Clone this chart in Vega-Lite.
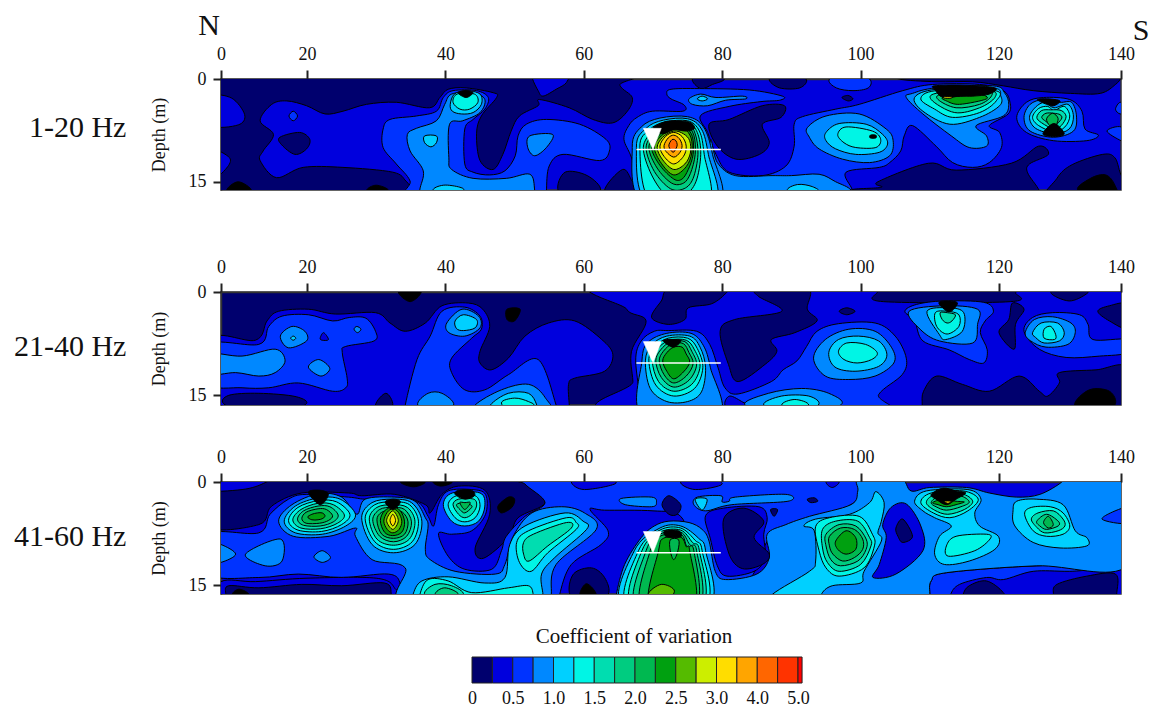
{"$schema":"https://vega.github.io/schema/vega-lite/v6.json","background":"white","padding":{"left":13,"top":10,"right":0,"bottom":0},
"config":{"font":"Liberation Serif","view":{"stroke":"#333","strokeWidth":1.5},"axis":{"grid":false,"labelFont":"Liberation Serif","titleFont":"Liberation Serif","labelFontSize":18,"titleFontSize":18,"labelColor":"#111","titleColor":"#111","titleFontWeight":"normal","domainColor":"#333","tickColor":"#222","tickWidth":2,"domainWidth":1.5}},
"datasets":{
"mark":[{"s":1,"x":68.6,"y":7.2},{"s":1,"x":71.2,"y":7.2},{"s":1,"x":70,"y":10.3}],
"rule":[{"x":67.6,"y":10.3},{"x":79.8,"y":10.3}],
"lg":[{"a":0,"b":1,"v":0},{"a":1,"b":2,"v":1},{"a":2,"b":3,"v":2},{"a":3,"b":4,"v":3},{"a":4,"b":5,"v":4},{"a":5,"b":6,"v":5},{"a":6,"b":7,"v":6},{"a":7,"b":8,"v":7},{"a":8,"b":9,"v":8},{"a":9,"b":10,"v":9},{"a":10,"b":11,"v":10},{"a":11,"b":12,"v":11},{"a":12,"b":13,"v":12},{"a":13,"b":14,"v":13},{"a":14,"b":15,"v":14},{"a":15,"b":16,"v":15},{"a":16,"b":16.2,"v":16}],
"p1":[
{"s":1,"v":0,"x":-5,"y":-3},{"s":1,"v":0,"x":65,"y":-2},{"s":1,"v":0,"x":65.2,"y":0.9},{"s":1,"v":0,"x":67,"y":2.7},{"s":1,"v":0,"x":66.3,"y":4.7},{"s":1,"v":0,"x":64.2,"y":6.4},{"s":1,"v":0,"x":61.3,"y":5.9},{"s":1,"v":0,"x":57.9,"y":4.2},{"s":1,"v":0,"x":53.6,"y":3},{"s":1,"v":0,"x":53.4,"y":3.9},{"s":1,"v":0,"x":50.7,"y":5.4},{"s":1,"v":0,"x":49.5,"y":7.6},{"s":1,"v":0,"x":48.3,"y":11},{"s":1,"v":0,"x":46.9,"y":13.2},{"s":1,"v":0,"x":45,"y":11.9},{"s":1,"v":0,"x":44.5,"y":8},{"s":1,"v":0,"x":45.2,"y":5.4},{"s":1,"v":0,"x":47.4,"y":2.7},{"s":1,"v":0,"x":46.9,"y":2},{"s":1,"v":0,"x":43,"y":1.3},{"s":1,"v":0,"x":40.4,"y":1.5},{"s":1,"v":0,"x":39.2,"y":2.7},{"s":1,"v":0,"x":37.7,"y":4.2},{"s":1,"v":0,"x":32.9,"y":3.4},{"s":1,"v":0,"x":28.6,"y":3.7},{"s":1,"v":0,"x":25.2,"y":4.7},{"s":1,"v":0,"x":22.6,"y":5.1},{"s":1,"v":0,"x":19.9,"y":3.9},{"s":1,"v":0,"x":15.3,"y":3.2},{"s":1,"v":0,"x":11.8,"y":3.7},{"s":1,"v":0,"x":9.1,"y":6.1},{"s":1,"v":0,"x":12.2,"y":8.1},{"s":1,"v":0,"x":9.8,"y":10.5},{"s":1,"v":0,"x":9.1,"y":11.9},{"s":1,"v":0,"x":12.9,"y":14.4},{"s":1,"v":0,"x":19.1,"y":12.9},{"s":1,"v":0,"x":25.2,"y":12.9},{"s":1,"v":0,"x":32.4,"y":13.6},{"s":1,"v":0,"x":34.3,"y":14.9},{"s":1,"v":0,"x":35.3,"y":16.3},{"s":1,"v":0,"x":35.8,"y":17.8},{"s":1,"v":0,"x":-5,"y":18},
{"s":2,"v":1,"x":-2,"y":2.7},{"s":2,"v":1,"x":2.5,"y":2.8},{"s":2,"v":1,"x":5.5,"y":5.2},{"s":2,"v":1,"x":4,"y":6.7},{"s":2,"v":1,"x":-2,"y":6.7},
{"s":3,"v":1,"x":-2,"y":10.5},{"s":3,"v":1,"x":2,"y":11.5},{"s":3,"v":1,"x":1.3,"y":13},{"s":3,"v":1,"x":-2,"y":14.5},
{"s":4,"v":1,"x":52.6,"y":-1},{"s":4,"v":1,"x":52.6,"y":0},{"s":4,"v":1,"x":53.4,"y":1.7},{"s":4,"v":1,"x":54.1,"y":2.5},{"s":4,"v":1,"x":56,"y":1.5},{"s":4,"v":1,"x":57.5,"y":0.5},{"s":4,"v":1,"x":57.5,"y":-1},
{"s":5,"v":0,"x":13.7,"y":8.5},{"s":5,"v":0,"x":18.3,"y":7.8},{"s":5,"v":0,"x":20.4,"y":8.8},{"s":5,"v":0,"x":19.9,"y":10.2},{"s":5,"v":0,"x":17.2,"y":11},{"s":5,"v":0,"x":14.1,"y":9.6},
{"s":6,"v":2,"x":16.8,"y":4.7},{"s":6,"v":2,"x":17.8,"y":5.4},{"s":6,"v":2,"x":16.8,"y":6.1},{"s":6,"v":2,"x":15.8,"y":5.4},
{"s":7,"v":-1,"x":1.3,"y":16.3},{"s":7,"v":-1,"x":4,"y":15},{"s":7,"v":-1,"x":7.1,"y":16.3},{"s":7,"v":-1,"x":4,"y":17.5},
{"s":8,"v":-1,"x":28.6,"y":16.3},{"s":8,"v":-1,"x":30,"y":15.5},{"s":8,"v":-1,"x":31.8,"y":16.3},{"s":8,"v":-1,"x":30,"y":17.5},
{"s":9,"v":2,"x":31,"y":7.3},{"s":9,"v":2,"x":32,"y":5.9},{"s":9,"v":2,"x":35.8,"y":5.4},{"s":9,"v":2,"x":38.7,"y":4.7},{"s":9,"v":2,"x":39.7,"y":2.7},{"s":9,"v":2,"x":41.1,"y":1.7},{"s":9,"v":2,"x":44.5,"y":1.7},{"s":9,"v":2,"x":46.2,"y":2.7},{"s":9,"v":2,"x":45.7,"y":4.4},{"s":9,"v":2,"x":44,"y":5.9},{"s":9,"v":2,"x":42.8,"y":7.3},{"s":9,"v":2,"x":42.8,"y":12.4},{"s":9,"v":2,"x":44,"y":13.6},{"s":9,"v":2,"x":46.4,"y":14},{"s":9,"v":2,"x":48.6,"y":13.4},{"s":9,"v":2,"x":50.1,"y":11.2},{"s":9,"v":2,"x":50.5,"y":8.3},{"s":9,"v":2,"x":51.7,"y":6.6},{"s":9,"v":2,"x":54.6,"y":5.9},{"s":9,"v":2,"x":59.4,"y":6.6},{"s":9,"v":2,"x":63.2,"y":8.8},{"s":9,"v":2,"x":63.7,"y":10.5},{"s":9,"v":2,"x":62.3,"y":11.9},{"s":9,"v":2,"x":57,"y":11},{"s":9,"v":2,"x":55,"y":12.7},{"s":9,"v":2,"x":54.6,"y":16.3},{"s":9,"v":2,"x":54.6,"y":18},{"s":9,"v":2,"x":35.1,"y":18},{"s":9,"v":2,"x":34.9,"y":14.9},{"s":9,"v":2,"x":32.9,"y":12.4},{"s":9,"v":2,"x":31,"y":10},
{"s":10,"v":3,"x":34.5,"y":8.1},{"s":10,"v":3,"x":35.8,"y":7.2},{"s":10,"v":3,"x":38.7,"y":6.1},{"s":10,"v":3,"x":39.9,"y":3.7},{"s":10,"v":3,"x":40.9,"y":2.2},{"s":10,"v":3,"x":44,"y":2},{"s":10,"v":3,"x":45.7,"y":3},{"s":10,"v":3,"x":45,"y":4.9},{"s":10,"v":3,"x":42.5,"y":6.1},{"s":10,"v":3,"x":40.6,"y":6.6},{"s":10,"v":3,"x":40.5,"y":11.5},{"s":10,"v":3,"x":40.9,"y":13.2},{"s":10,"v":3,"x":44,"y":14.5},{"s":10,"v":3,"x":48.8,"y":14.5},{"s":10,"v":3,"x":52.2,"y":13.9},{"s":10,"v":3,"x":52.9,"y":16.2},{"s":10,"v":3,"x":52.9,"y":18},{"s":10,"v":3,"x":36.5,"y":18},{"s":10,"v":3,"x":36.3,"y":16.2},{"s":10,"v":3,"x":36.8,"y":13.4},{"s":10,"v":3,"x":34.9,"y":10.5},
{"s":11,"v":4,"x":40.7,"y":3.7},{"s":11,"v":4,"x":41.3,"y":2.2},{"s":11,"v":4,"x":43,"y":1.7},{"s":11,"v":4,"x":45,"y":2.2},{"s":11,"v":4,"x":45.2,"y":3.7},{"s":11,"v":4,"x":44,"y":4.9},{"s":11,"v":4,"x":42.3,"y":5.1},{"s":11,"v":4,"x":41,"y":4.7},
{"s":12,"v":5,"x":41.1,"y":3.4},{"s":12,"v":5,"x":41.7,"y":2.2},{"s":12,"v":5,"x":44.2,"y":2.2},{"s":12,"v":5,"x":44.7,"y":3.4},{"s":12,"v":5,"x":43.5,"y":4.4},{"s":12,"v":5,"x":42.1,"y":4.4},
{"s":13,"v":-1,"x":41.8,"y":2},{"s":13,"v":-1,"x":43,"y":1.7},{"s":13,"v":-1,"x":44,"y":2},{"s":13,"v":-1,"x":43,"y":2.7},
{"s":14,"v":4,"x":37,"y":8.3},{"s":14,"v":4,"x":38.7,"y":8.3},{"s":14,"v":4,"x":38.7,"y":9.3},{"s":14,"v":4,"x":37.9,"y":9.9},{"s":14,"v":4,"x":37,"y":9.3},
{"s":15,"v":4,"x":38.2,"y":16.3},{"s":15,"v":4,"x":39.7,"y":15.5},{"s":15,"v":4,"x":42.1,"y":15.8},{"s":15,"v":4,"x":42.5,"y":16.4},{"s":15,"v":4,"x":40,"y":18},
{"s":16,"v":3,"x":52.2,"y":8.3},{"s":16,"v":3,"x":55.5,"y":8.1},{"s":16,"v":3,"x":54.6,"y":10},{"s":16,"v":3,"x":52.9,"y":11.2},{"s":16,"v":3,"x":51.9,"y":10},
{"s":17,"v":0,"x":56.3,"y":16.3},{"s":17,"v":0,"x":57.3,"y":13.6},{"s":17,"v":0,"x":60.5,"y":14.1},{"s":17,"v":0,"x":62.4,"y":16.3},{"s":17,"v":0,"x":59,"y":18},
{"s":18,"v":0,"x":63,"y":16.3},{"s":18,"v":0,"x":65.6,"y":13.2},{"s":18,"v":0,"x":67,"y":14.9},{"s":18,"v":0,"x":68,"y":16.3},{"s":18,"v":0,"x":65.5,"y":18},
{"s":19,"v":0,"x":105.6,"y":-1},{"s":19,"v":0,"x":105.6,"y":0},{"s":19,"v":0,"x":110.9,"y":0.4},{"s":19,"v":0,"x":116.2,"y":0.4},{"s":19,"v":0,"x":120.7,"y":1},{"s":19,"v":0,"x":125.6,"y":1.7},{"s":19,"v":0,"x":131.7,"y":2.1},{"s":19,"v":0,"x":136.6,"y":2.1},{"s":19,"v":0,"x":139.1,"y":0.8},{"s":19,"v":0,"x":140,"y":-0.2},{"s":19,"v":0,"x":140,"y":-1},
{"s":20,"v":0,"x":75.7,"y":0},{"s":20,"v":0,"x":76.9,"y":1.4},{"s":20,"v":0,"x":78.6,"y":0.8},{"s":20,"v":0,"x":80.3,"y":0},{"s":20,"v":0,"x":78,"y":-1},
{"s":21,"v":0,"x":86.8,"y":0},{"s":21,"v":0,"x":88.3,"y":1.3},{"s":21,"v":0,"x":91.2,"y":1.3},{"s":21,"v":0,"x":92.1,"y":0},{"s":21,"v":0,"x":89,"y":-1},
{"s":22,"v":2,"x":68.5,"y":18},{"s":22,"v":2,"x":68.2,"y":16},{"s":22,"v":2,"x":66.9,"y":11.5},{"s":22,"v":2,"x":65.8,"y":8.8},{"s":22,"v":2,"x":66.5,"y":6.8},{"s":22,"v":2,"x":67.7,"y":5.6},{"s":22,"v":2,"x":69.9,"y":4.7},{"s":22,"v":2,"x":74.3,"y":4.7},{"s":22,"v":2,"x":74.5,"y":3.8},{"s":22,"v":2,"x":72.6,"y":2.9},{"s":22,"v":2,"x":72,"y":2.2},{"s":22,"v":2,"x":72.6,"y":1.5},{"s":22,"v":2,"x":76.7,"y":1.4},{"s":22,"v":2,"x":83.9,"y":1.6},{"s":22,"v":2,"x":88.7,"y":2.5},{"s":22,"v":2,"x":88.3,"y":3.1},{"s":22,"v":2,"x":85.6,"y":3.3},{"s":22,"v":2,"x":81,"y":4},{"s":22,"v":2,"x":76.9,"y":5.3},{"s":22,"v":2,"x":77.9,"y":7.8},{"s":22,"v":2,"x":79.1,"y":11},{"s":22,"v":2,"x":81,"y":13.6},{"s":22,"v":2,"x":85.8,"y":14.1},{"s":22,"v":2,"x":89.2,"y":12.7},{"s":22,"v":2,"x":90.4,"y":9.8},{"s":22,"v":2,"x":90.4,"y":6.6},{"s":22,"v":2,"x":91.6,"y":5.5},{"s":22,"v":2,"x":96.4,"y":4.4},{"s":22,"v":2,"x":99.8,"y":3.7},{"s":22,"v":2,"x":106.1,"y":1.7},{"s":22,"v":2,"x":110.4,"y":0.8},{"s":22,"v":2,"x":117.2,"y":0.8},{"s":22,"v":2,"x":120.7,"y":1.7},{"s":22,"v":2,"x":121.8,"y":3.4},{"s":22,"v":2,"x":121.5,"y":5.1},{"s":22,"v":2,"x":118.6,"y":6.8},{"s":22,"v":2,"x":120.1,"y":7.8},{"s":22,"v":2,"x":120.4,"y":10},{"s":22,"v":2,"x":118.6,"y":12.2},{"s":22,"v":2,"x":116.2,"y":12.9},{"s":22,"v":2,"x":113.3,"y":12.2},{"s":22,"v":2,"x":110.9,"y":9.8},{"s":22,"v":2,"x":107.5,"y":6.8},{"s":22,"v":2,"x":106.3,"y":8.3},{"s":22,"v":2,"x":105.8,"y":10.5},{"s":22,"v":2,"x":104.2,"y":12.2},{"s":22,"v":2,"x":102.7,"y":12.9},{"s":22,"v":2,"x":97.9,"y":13.6},{"s":22,"v":2,"x":98.8,"y":16.2},{"s":22,"v":2,"x":98.8,"y":18},
{"s":23,"v":2,"x":122.9,"y":5.6},{"s":23,"v":2,"x":124.5,"y":3.4},{"s":23,"v":2,"x":127.3,"y":2.7},{"s":23,"v":2,"x":131.6,"y":3},{"s":23,"v":2,"x":133.6,"y":4.7},{"s":23,"v":2,"x":134.1,"y":7.3},{"s":23,"v":2,"x":136.3,"y":8.2},{"s":23,"v":2,"x":134.4,"y":9},{"s":23,"v":2,"x":128.9,"y":9},{"s":23,"v":2,"x":124.5,"y":7.8},
{"s":24,"v":2,"x":95.5,"y":0},{"s":24,"v":2,"x":96.5,"y":1.3},{"s":24,"v":2,"x":98.9,"y":1.7},{"s":24,"v":2,"x":101.1,"y":1.3},{"s":24,"v":2,"x":101.3,"y":0},{"s":24,"v":2,"x":98.5,"y":-1.5},
{"s":25,"v":2,"x":139.1,"y":4.4},{"s":25,"v":2,"x":139.9,"y":3.4},{"s":25,"v":2,"x":141,"y":4.4},{"s":25,"v":2,"x":139.9,"y":5.1},
{"s":26,"v":2,"x":137.7,"y":7.6},{"s":26,"v":2,"x":140,"y":7},{"s":26,"v":2,"x":141,"y":9},{"s":26,"v":2,"x":140,"y":9},
{"s":27,"v":0,"x":97.3,"y":2.7},{"s":27,"v":0,"x":98.2,"y":2.4},{"s":27,"v":0,"x":98.9,"y":2.9},{"s":27,"v":0,"x":98.2,"y":3.2},
{"s":28,"v":0,"x":78.1,"y":6.6},{"s":28,"v":0,"x":81,"y":5.9},{"s":28,"v":0,"x":85.8,"y":3.9},{"s":28,"v":0,"x":89,"y":3.9},{"s":28,"v":0,"x":88.5,"y":5.6},{"s":28,"v":0,"x":85.8,"y":6.6},{"s":28,"v":0,"x":86.8,"y":9.3},{"s":28,"v":0,"x":85.4,"y":11},{"s":28,"v":0,"x":82,"y":11.7},{"s":28,"v":0,"x":79.3,"y":9.8},
{"s":29,"v":0,"x":108.9,"y":18},{"s":29,"v":0,"x":98.8,"y":16.3},{"s":29,"v":0,"x":103,"y":15.8},{"s":29,"v":0,"x":102.5,"y":15},{"s":29,"v":0,"x":109.8,"y":12.3},{"s":29,"v":0,"x":113.8,"y":13.3},{"s":29,"v":0,"x":122,"y":12.3},{"s":29,"v":0,"x":126.5,"y":9.8},{"s":29,"v":0,"x":128.1,"y":11},{"s":29,"v":0,"x":125,"y":12.4},{"s":29,"v":0,"x":124.7,"y":13.7},{"s":29,"v":0,"x":126.6,"y":16.3},{"s":29,"v":0,"x":126.6,"y":18},
{"s":30,"v":0,"x":128,"y":18},{"s":30,"v":0,"x":129.5,"y":14.5},{"s":30,"v":0,"x":132,"y":12.5},{"s":30,"v":0,"x":137,"y":11},{"s":30,"v":0,"x":139,"y":11.5},{"s":30,"v":0,"x":140,"y":14},{"s":30,"v":0,"x":142,"y":18},
{"s":31,"v":-1,"x":133,"y":16.3},{"s":31,"v":-1,"x":135,"y":14.5},{"s":31,"v":-1,"x":137.5,"y":14},{"s":31,"v":-1,"x":139,"y":15.5},{"s":31,"v":-1,"x":139.2,"y":17.5},
{"s":32,"v":3,"x":78.3,"y":9},{"s":32,"v":3,"x":79.3,"y":12.2},{"s":32,"v":3,"x":81.9,"y":14.1},{"s":32,"v":3,"x":87.2,"y":14.1},{"s":32,"v":3,"x":90,"y":14.1},{"s":32,"v":3,"x":94,"y":13.9},{"s":32,"v":3,"x":96.4,"y":15},{"s":32,"v":3,"x":98.6,"y":16.2},{"s":32,"v":3,"x":98.6,"y":18},{"s":32,"v":3,"x":78.3,"y":18},
{"s":33,"v":4,"x":89.4,"y":16.3},{"s":33,"v":4,"x":90.9,"y":15.4},{"s":33,"v":4,"x":93,"y":15.7},{"s":33,"v":4,"x":94,"y":16.6},{"s":33,"v":4,"x":91.5,"y":18},
{"s":34,"v":3,"x":75.2,"y":2.9},{"s":34,"v":3,"x":76.9,"y":2.2},{"s":34,"v":3,"x":79.1,"y":2.7},{"s":34,"v":3,"x":82.9,"y":2.5},{"s":34,"v":3,"x":83.4,"y":2.9},{"s":34,"v":3,"x":80.5,"y":3.1},{"s":34,"v":3,"x":77.9,"y":3.9},{"s":34,"v":3,"x":75.7,"y":3.7},
{"s":35,"v":4,"x":76.4,"y":2.9},{"s":35,"v":4,"x":77.1,"y":2.5},{"s":35,"v":4,"x":77.9,"y":2.9},{"s":35,"v":4,"x":77.1,"y":3.2},
{"s":36,"v":3,"x":92.3,"y":7.1},{"s":36,"v":3,"x":95,"y":5.4},{"s":36,"v":3,"x":99.8,"y":5.1},{"s":36,"v":3,"x":103.7,"y":7.3},{"s":36,"v":3,"x":104.7,"y":9},{"s":36,"v":3,"x":104.2,"y":11.2},{"s":36,"v":3,"x":101.3,"y":12.2},{"s":36,"v":3,"x":97.4,"y":11.7},{"s":36,"v":3,"x":94,"y":10.2},{"s":36,"v":3,"x":92.6,"y":8.5},
{"s":37,"v":4,"x":95,"y":7.8},{"s":37,"v":4,"x":96.9,"y":6.5},{"s":37,"v":4,"x":100.8,"y":6.6},{"s":37,"v":4,"x":103.2,"y":8.1},{"s":37,"v":4,"x":103.9,"y":9.5},{"s":37,"v":4,"x":102.7,"y":10.7},{"s":37,"v":4,"x":99.3,"y":11},{"s":37,"v":4,"x":96.4,"y":10.2},{"s":37,"v":4,"x":95,"y":9},
{"s":38,"v":5,"x":96.7,"y":8.1},{"s":38,"v":5,"x":97.9,"y":7},{"s":38,"v":5,"x":101.7,"y":7.6},{"s":38,"v":5,"x":102.9,"y":8.8},{"s":38,"v":5,"x":102.2,"y":10},{"s":38,"v":5,"x":99.3,"y":10},{"s":38,"v":5,"x":97.6,"y":9.3},
{"s":39,"v":-1,"x":101.4,"y":8.2},{"s":39,"v":-1,"x":102.2,"y":8.2},{"s":39,"v":-1,"x":102.2,"y":8.6},{"s":39,"v":-1,"x":101.4,"y":8.6},
{"s":40,"v":3,"x":106.6,"y":2.7},{"s":40,"v":3,"x":107.5,"y":2.1},{"s":40,"v":3,"x":110.9,"y":1.3},{"s":40,"v":3,"x":119.1,"y":1},{"s":40,"v":3,"x":120.9,"y":2},{"s":40,"v":3,"x":121.6,"y":3.7},{"s":40,"v":3,"x":120.7,"y":5.4},{"s":40,"v":3,"x":116.7,"y":6.8},{"s":40,"v":3,"x":118.2,"y":8.3},{"s":40,"v":3,"x":118.2,"y":9.8},{"s":40,"v":3,"x":115.7,"y":10},{"s":40,"v":3,"x":113.1,"y":8.3},{"s":40,"v":3,"x":109,"y":5.1},
{"s":41,"v":4,"x":107.8,"y":2.7},{"s":41,"v":4,"x":109,"y":4.7},{"s":41,"v":4,"x":112.9,"y":6.6},{"s":41,"v":4,"x":117.2,"y":5.6},{"s":41,"v":4,"x":120.1,"y":3.9},{"s":41,"v":4,"x":120.3,"y":2.5},{"s":41,"v":4,"x":119.1,"y":1.3},{"s":41,"v":4,"x":110.9,"y":1.5},
{"s":42,"v":5,"x":108.7,"y":2.9},{"s":42,"v":5,"x":110.7,"y":4.4},{"s":42,"v":5,"x":113.3,"y":5.6},{"s":42,"v":5,"x":117.2,"y":4.9},{"s":42,"v":5,"x":119.6,"y":3.2},{"s":42,"v":5,"x":119.4,"y":1.7},{"s":42,"v":5,"x":110.9,"y":1.7},
{"s":43,"v":6,"x":110.2,"y":3},{"s":43,"v":6,"x":113.6,"y":4.9},{"s":43,"v":6,"x":117.2,"y":4.2},{"s":43,"v":6,"x":119.4,"y":2.7},{"s":43,"v":6,"x":118.6,"y":1.7},{"s":43,"v":6,"x":111.4,"y":2},
{"s":44,"v":7,"x":111.2,"y":3},{"s":44,"v":7,"x":113.8,"y":4.2},{"s":44,"v":7,"x":117.2,"y":3.7},{"s":44,"v":7,"x":118.9,"y":2.5},{"s":44,"v":7,"x":118.2,"y":1.7},{"s":44,"v":7,"x":111.9,"y":2.2},
{"s":45,"v":9,"x":112.4,"y":3.2},{"s":45,"v":9,"x":114.3,"y":3.7},{"s":45,"v":9,"x":118.2,"y":2.9},{"s":45,"v":9,"x":117.2,"y":2.2},{"s":45,"v":9,"x":114.8,"y":2.5},{"s":45,"v":9,"x":111.9,"y":2.7},
{"s":46,"v":-1,"x":110.7,"y":1.5},{"s":46,"v":-1,"x":111.9,"y":2.7},{"s":46,"v":-1,"x":114.3,"y":2.5},{"s":46,"v":-1,"x":116.2,"y":2.5},{"s":46,"v":-1,"x":118.6,"y":2.2},{"s":46,"v":-1,"x":119.4,"y":1.3},{"s":46,"v":-1,"x":114.8,"y":0.9},{"s":46,"v":-1,"x":110.7,"y":1},
{"s":47,"v":12,"x":112.1,"y":2.6},{"s":47,"v":12,"x":113.1,"y":2.6},{"s":47,"v":12,"x":113.1,"y":2.8},{"s":47,"v":12,"x":112.1,"y":2.8},
{"s":48,"v":3,"x":124.1,"y":5.6},{"s":48,"v":3,"x":125.1,"y":3.7},{"s":48,"v":3,"x":127.3,"y":3},{"s":48,"v":3,"x":130,"y":3.4},{"s":48,"v":3,"x":131.9,"y":3.4},{"s":48,"v":3,"x":132.7,"y":5.4},{"s":48,"v":3,"x":132.2,"y":7.6},{"s":48,"v":3,"x":128.9,"y":8.5},{"s":48,"v":3,"x":125.1,"y":7.6},
{"s":49,"v":4,"x":125,"y":5.6},{"s":49,"v":4,"x":126,"y":4.1},{"s":49,"v":4,"x":127.5,"y":3.4},{"s":49,"v":4,"x":129,"y":4.2},{"s":49,"v":4,"x":131.3,"y":3.7},{"s":49,"v":4,"x":132.2,"y":5.4},{"s":49,"v":4,"x":131.5,"y":7.3},{"s":49,"v":4,"x":129,"y":8},{"s":49,"v":4,"x":126,"y":7.2},
{"s":50,"v":5,"x":125.5,"y":5.6},{"s":50,"v":5,"x":126.5,"y":4.3},{"s":50,"v":5,"x":128,"y":4},{"s":50,"v":5,"x":129,"y":4.6},{"s":50,"v":5,"x":130.7,"y":4},{"s":50,"v":5,"x":131.6,"y":5.4},{"s":50,"v":5,"x":130.8,"y":7},{"s":50,"v":5,"x":129,"y":7.7},{"s":50,"v":5,"x":126.5,"y":6.8},
{"s":51,"v":6,"x":126.2,"y":5.6},{"s":51,"v":6,"x":127,"y":4.6},{"s":51,"v":6,"x":128.5,"y":4.5},{"s":51,"v":6,"x":130.2,"y":4.6},{"s":51,"v":6,"x":131,"y":5.5},{"s":51,"v":6,"x":130.2,"y":6.8},{"s":51,"v":6,"x":129,"y":7.3},{"s":51,"v":6,"x":127,"y":6.4},
{"s":52,"v":7,"x":127,"y":5.6},{"s":52,"v":7,"x":127.7,"y":5},{"s":52,"v":7,"x":129,"y":5},{"s":52,"v":7,"x":130,"y":5.2},{"s":52,"v":7,"x":130.3,"y":5.7},{"s":52,"v":7,"x":129.6,"y":6.5},{"s":52,"v":7,"x":129,"y":7},{"s":52,"v":7,"x":127.7,"y":6.2},
{"s":53,"v":8,"x":127.8,"y":5.8},{"s":53,"v":8,"x":128.8,"y":5},{"s":53,"v":8,"x":129.7,"y":5.8},{"s":53,"v":8,"x":129.1,"y":7},{"s":53,"v":8,"x":128.3,"y":6.8},
{"s":54,"v":-1,"x":126.3,"y":3},{"s":54,"v":-1,"x":128,"y":2.9},{"s":54,"v":-1,"x":130,"y":3.2},{"s":54,"v":-1,"x":129,"y":3.9},{"s":54,"v":-1,"x":127.8,"y":3.7},
{"s":55,"v":-1,"x":127.2,"y":8},{"s":55,"v":-1,"x":129,"y":6.5},{"s":55,"v":-1,"x":130.7,"y":8},{"s":55,"v":-1,"x":129,"y":8.4},
{"s":60,"v":3,"x":68.5,"y":18},{"s":60,"v":3,"x":67,"y":10},{"s":60,"v":3,"x":68.3,"y":7},{"s":60,"v":3,"x":71,"y":5.7},{"s":60,"v":3,"x":75,"y":5.5},{"s":60,"v":3,"x":77.3,"y":7},{"s":60,"v":3,"x":78.6,"y":11},{"s":60,"v":3,"x":79.5,"y":18},
{"s":61,"v":4,"x":69.2,"y":18},{"s":61,"v":4,"x":67.6,"y":10},{"s":61,"v":4,"x":69,"y":7.2},{"s":61,"v":4,"x":71.5,"y":6},{"s":61,"v":4,"x":75,"y":5.8},{"s":61,"v":4,"x":77,"y":7.3},{"s":61,"v":4,"x":78,"y":11},{"s":61,"v":4,"x":78.9,"y":18},
{"s":62,"v":5,"x":69.8,"y":18},{"s":62,"v":5,"x":68.1,"y":10},{"s":62,"v":5,"x":69.5,"y":7.4},{"s":62,"v":5,"x":71.7,"y":6.3},{"s":62,"v":5,"x":75,"y":6.1},{"s":62,"v":5,"x":76.7,"y":7.6},{"s":62,"v":5,"x":77.4,"y":11},{"s":62,"v":5,"x":78,"y":18},
{"s":63,"v":6,"x":72,"y":17},{"s":63,"v":6,"x":69.8,"y":14},{"s":63,"v":6,"x":68.6,"y":10},{"s":63,"v":6,"x":70,"y":7.6},{"s":63,"v":6,"x":72,"y":6.6},{"s":63,"v":6,"x":75,"y":6.4},{"s":63,"v":6,"x":76.4,"y":7.8},{"s":63,"v":6,"x":76.9,"y":11},{"s":63,"v":6,"x":76.2,"y":15},{"s":63,"v":6,"x":74.5,"y":17},
{"s":64,"v":7,"x":72.5,"y":16},{"s":64,"v":7,"x":70.2,"y":13.5},{"s":64,"v":7,"x":69,"y":10},{"s":64,"v":7,"x":70.3,"y":7.8},{"s":64,"v":7,"x":72.3,"y":6.8},{"s":64,"v":7,"x":75,"y":6.6},{"s":64,"v":7,"x":76.1,"y":8},{"s":64,"v":7,"x":76.5,"y":11},{"s":64,"v":7,"x":75.8,"y":14.5},{"s":64,"v":7,"x":74.5,"y":16},
{"s":65,"v":8,"x":72.7,"y":15.2},{"s":65,"v":8,"x":70.6,"y":13},{"s":65,"v":8,"x":69.4,"y":10},{"s":65,"v":8,"x":70.6,"y":8},{"s":65,"v":8,"x":72.5,"y":7},{"s":65,"v":8,"x":74.8,"y":6.9},{"s":65,"v":8,"x":75.9,"y":8.2},{"s":65,"v":8,"x":76.1,"y":11},{"s":65,"v":8,"x":75.4,"y":13.8},{"s":65,"v":8,"x":74.4,"y":15.2},
{"s":66,"v":9,"x":73,"y":14.6},{"s":66,"v":9,"x":71,"y":12.6},{"s":66,"v":9,"x":69.8,"y":10},{"s":66,"v":9,"x":71,"y":8.1},{"s":66,"v":9,"x":72.6,"y":7.2},{"s":66,"v":9,"x":74.6,"y":7.1},{"s":66,"v":9,"x":75.7,"y":8.4},{"s":66,"v":9,"x":75.8,"y":11},{"s":66,"v":9,"x":75.1,"y":13.2},{"s":66,"v":9,"x":74.2,"y":14.6},
{"s":67,"v":10,"x":73,"y":14},{"s":67,"v":10,"x":71.2,"y":12.3},{"s":67,"v":10,"x":70.2,"y":10},{"s":67,"v":10,"x":71.2,"y":8.3},{"s":67,"v":10,"x":72.8,"y":7.4},{"s":67,"v":10,"x":74.5,"y":7.3},{"s":67,"v":10,"x":75.5,"y":8.6},{"s":67,"v":10,"x":75.6,"y":10.8},{"s":67,"v":10,"x":74.8,"y":12.8},
{"s":68,"v":11,"x":73,"y":13.2},{"s":68,"v":11,"x":71.4,"y":11.8},{"s":68,"v":11,"x":70.6,"y":10},{"s":68,"v":11,"x":71.4,"y":8.5},{"s":68,"v":11,"x":73,"y":7.6},{"s":68,"v":11,"x":74.4,"y":8},{"s":68,"v":11,"x":75.3,"y":9},{"s":68,"v":11,"x":75.4,"y":10.8},{"s":68,"v":11,"x":74.6,"y":12.4},
{"s":69,"v":-1,"x":70,"y":7.2},{"s":69,"v":-1,"x":71.5,"y":6.3},{"s":69,"v":-1,"x":73,"y":6.1},{"s":69,"v":-1,"x":75.3,"y":6.3},{"s":69,"v":-1,"x":76,"y":7.2},{"s":69,"v":-1,"x":74.8,"y":7.6},{"s":69,"v":-1,"x":73,"y":7.4},{"s":69,"v":-1,"x":71.4,"y":8},
{"s":70,"v":12,"x":73,"y":12.4},{"s":70,"v":12,"x":71.6,"y":11.3},{"s":70,"v":12,"x":71,"y":9.8},{"s":70,"v":12,"x":71.8,"y":8.4},{"s":70,"v":12,"x":73,"y":7.8},{"s":70,"v":12,"x":74.2,"y":8.4},{"s":70,"v":12,"x":74.8,"y":9.8},{"s":70,"v":12,"x":74.4,"y":11.3},
{"s":71,"v":13,"x":73,"y":11.4},{"s":71,"v":13,"x":71.9,"y":10.6},{"s":71,"v":13,"x":71.6,"y":9.7},{"s":71,"v":13,"x":72.2,"y":8.6},{"s":71,"v":13,"x":73,"y":8.2},{"s":71,"v":13,"x":73.8,"y":8.7},{"s":71,"v":13,"x":74.2,"y":9.7},{"s":71,"v":13,"x":73.9,"y":10.7},
{"s":72,"v":14,"x":72.9,"y":10.7},{"s":72,"v":14,"x":72.4,"y":10.1},{"s":72,"v":14,"x":72.3,"y":9.6},{"s":72,"v":14,"x":72.6,"y":9},{"s":72,"v":14,"x":72.9,"y":8.8},{"s":72,"v":14,"x":73.3,"y":9},{"s":72,"v":14,"x":73.5,"y":9.6},{"s":72,"v":14,"x":73.3,"y":10.2}
],
"p2":[
{"s":1,"v":1,"x":-3,"y":7},{"s":1,"v":1,"x":8,"y":7},{"s":1,"v":1,"x":10.7,"y":4.2},{"s":1,"v":1,"x":13.4,"y":2.8},{"s":1,"v":1,"x":20.2,"y":2.5},{"s":1,"v":1,"x":24.1,"y":3.2},{"s":1,"v":1,"x":29.9,"y":3},{"s":1,"v":1,"x":32,"y":4.5},{"s":1,"v":1,"x":34.2,"y":5.7},{"s":1,"v":1,"x":37.1,"y":4.5},{"s":1,"v":1,"x":39.5,"y":2},{"s":1,"v":1,"x":43.3,"y":1.6},{"s":1,"v":1,"x":45.4,"y":2.5},{"s":1,"v":1,"x":46.4,"y":5},{"s":1,"v":1,"x":45,"y":8.6},{"s":1,"v":1,"x":45,"y":10.3},{"s":1,"v":1,"x":46.6,"y":11.3},{"s":1,"v":1,"x":49.1,"y":9.6},{"s":1,"v":1,"x":51.5,"y":6.4},{"s":1,"v":1,"x":54.9,"y":4.5},{"s":1,"v":1,"x":58.7,"y":4.2},{"s":1,"v":1,"x":62.6,"y":6.9},{"s":1,"v":1,"x":64.2,"y":9.1},{"s":1,"v":1,"x":63,"y":11.5},{"s":1,"v":1,"x":58.7,"y":12.5},{"s":1,"v":1,"x":57.8,"y":13.4},{"s":1,"v":1,"x":57.9,"y":16.4},{"s":1,"v":1,"x":58,"y":18},{"s":1,"v":1,"x":-3,"y":18},
{"s":2,"v":1,"x":66.2,"y":-2},{"s":2,"v":1,"x":66.2,"y":2.5},{"s":2,"v":1,"x":69,"y":4.2},{"s":2,"v":1,"x":66.9,"y":8.6},{"s":2,"v":1,"x":67.1,"y":13},{"s":2,"v":1,"x":67.4,"y":18},{"s":2,"v":1,"x":147,"y":20},{"s":2,"v":1,"x":147,"y":-3},
{"s":3,"v":0,"x":69.8,"y":3.7},{"s":3,"v":0,"x":71.2,"y":1.3},{"s":3,"v":0,"x":72.7,"y":-0.6},{"s":3,"v":0,"x":80.6,"y":-0.6},{"s":3,"v":0,"x":80.6,"y":0.1},{"s":3,"v":0,"x":78.5,"y":1.7},{"s":3,"v":0,"x":75.1,"y":2.3},{"s":3,"v":0,"x":74.6,"y":4},{"s":3,"v":0,"x":72.2,"y":4.7},
{"s":4,"v":0,"x":85,"y":-0.6},{"s":4,"v":0,"x":92.3,"y":-0.6},{"s":4,"v":0,"x":92.3,"y":2.5},{"s":4,"v":0,"x":93.7,"y":4.2},{"s":4,"v":0,"x":90.5,"y":5.9},{"s":4,"v":0,"x":87.1,"y":6.9},{"s":4,"v":0,"x":87.9,"y":8.6},{"s":4,"v":0,"x":86.2,"y":10.5},{"s":4,"v":0,"x":82.3,"y":13},{"s":4,"v":0,"x":80.9,"y":10.5},{"s":4,"v":0,"x":79.7,"y":5.7},{"s":4,"v":0,"x":81.8,"y":4},{"s":4,"v":0,"x":88.6,"y":2.8},{"s":4,"v":0,"x":85.2,"y":0.6},
{"s":5,"v":0,"x":102.4,"y":-0.9},{"s":5,"v":0,"x":102.4,"y":0},{"s":5,"v":0,"x":103.3,"y":1.4},{"s":5,"v":0,"x":121.9,"y":1.4},{"s":5,"v":0,"x":122.7,"y":0.1},{"s":5,"v":0,"x":122.7,"y":-0.9},
{"s":6,"v":0,"x":122.2,"y":1.6},{"s":6,"v":0,"x":124.1,"y":2.5},{"s":6,"v":0,"x":122.7,"y":4.7},{"s":6,"v":0,"x":122.5,"y":8.3},{"s":6,"v":0,"x":120,"y":5.9},{"s":6,"v":0,"x":121.6,"y":4},
{"s":7,"v":0,"x":128.5,"y":0.1},{"s":7,"v":0,"x":131.5,"y":1.3},{"s":7,"v":0,"x":134.3,"y":0.3},{"s":7,"v":0,"x":134.4,"y":-0.5},{"s":7,"v":0,"x":131,"y":-1},
{"s":8,"v":0,"x":136.2,"y":2.8},{"s":8,"v":0,"x":138.1,"y":2},{"s":8,"v":0,"x":141,"y":1.8},{"s":8,"v":0,"x":141,"y":5.2},{"s":8,"v":0,"x":138.1,"y":4.2},
{"s":9,"v":0,"x":108.9,"y":18},{"s":9,"v":0,"x":108.9,"y":16.4},{"s":9,"v":0,"x":109.1,"y":14.4},{"s":9,"v":0,"x":111,"y":12.2},{"s":9,"v":0,"x":114.7,"y":13.4},{"s":9,"v":0,"x":118.6,"y":14.4},{"s":9,"v":0,"x":123.3,"y":12.2},{"s":9,"v":0,"x":126.6,"y":14.4},{"s":9,"v":0,"x":128,"y":15.1},{"s":9,"v":0,"x":129.9,"y":13.2},{"s":9,"v":0,"x":129.9,"y":11.7},{"s":9,"v":0,"x":135.9,"y":11.3},{"s":9,"v":0,"x":141,"y":11},{"s":9,"v":0,"x":141,"y":18},
{"s":10,"v":-1,"x":132.4,"y":16.4},{"s":10,"v":-1,"x":134.8,"y":14.2},{"s":10,"v":-1,"x":138.1,"y":14.4},{"s":10,"v":-1,"x":139,"y":16.4},{"s":10,"v":-1,"x":135.5,"y":18},
{"s":11,"v":-1,"x":33.2,"y":0},{"s":11,"v":-1,"x":34.9,"y":1.4},{"s":11,"v":-1,"x":36.5,"y":0},{"s":11,"v":-1,"x":35,"y":-1},
{"s":12,"v":-1,"x":48.9,"y":2.5},{"s":12,"v":-1,"x":50.8,"y":2.5},{"s":12,"v":-1,"x":50,"y":4.2},{"s":12,"v":-1,"x":48.9,"y":4},
{"s":13,"v":0,"x":96.9,"y":2.8},{"s":13,"v":0,"x":98,"y":2.3},{"s":13,"v":0,"x":99.2,"y":2.8},{"s":13,"v":0,"x":98,"y":3.3},
{"s":14,"v":2,"x":-3,"y":7.6},{"s":14,"v":2,"x":8.8,"y":7.6},{"s":14,"v":2,"x":11.1,"y":5},{"s":14,"v":2,"x":14.2,"y":3.5},{"s":14,"v":2,"x":20.2,"y":3.3},{"s":14,"v":2,"x":23.7,"y":4.2},{"s":14,"v":2,"x":26.1,"y":3.7},{"s":14,"v":2,"x":28.5,"y":3.8},{"s":14,"v":2,"x":29.9,"y":5.7},{"s":14,"v":2,"x":29.7,"y":7.1},{"s":14,"v":2,"x":25.6,"y":7.9},{"s":14,"v":2,"x":25.1,"y":8.8},{"s":14,"v":2,"x":25.8,"y":12.5},{"s":14,"v":2,"x":25.6,"y":13.9},{"s":14,"v":2,"x":23.7,"y":14.4},{"s":14,"v":2,"x":18,"y":13.2},{"s":14,"v":2,"x":11.1,"y":13.9},{"s":14,"v":2,"x":4.9,"y":13.9},{"s":14,"v":2,"x":-3,"y":13.3},
{"s":15,"v":0,"x":1,"y":16.4},{"s":15,"v":0,"x":1.8,"y":15},{"s":15,"v":0,"x":8.8,"y":14.7},{"s":15,"v":0,"x":17.5,"y":15.2},{"s":15,"v":0,"x":19.5,"y":16.4},{"s":15,"v":0,"x":10,"y":18},
{"s":16,"v":0,"x":29.9,"y":16.4},{"s":16,"v":0,"x":31.4,"y":14.7},{"s":16,"v":0,"x":32.4,"y":16.4},{"s":16,"v":0,"x":31,"y":18},
{"s":17,"v":1,"x":21.9,"y":6.7},{"s":17,"v":1,"x":22.4,"y":5.9},{"s":17,"v":1,"x":23.1,"y":6.9},{"s":17,"v":1,"x":22.2,"y":7},
{"s":18,"v":3,"x":-3,"y":9},{"s":18,"v":3,"x":4.9,"y":9.3},{"s":18,"v":3,"x":12.6,"y":8.3},{"s":18,"v":3,"x":14.9,"y":10},{"s":18,"v":3,"x":12.6,"y":11.7},{"s":18,"v":3,"x":8.8,"y":12.2},{"s":18,"v":3,"x":3.4,"y":11.7},{"s":18,"v":3,"x":-3,"y":11.9},
{"s":19,"v":3,"x":13.8,"y":6.4},{"s":19,"v":3,"x":16.5,"y":5},{"s":19,"v":3,"x":19.5,"y":5.7},{"s":19,"v":3,"x":19.9,"y":7.1},{"s":19,"v":3,"x":15.7,"y":8.1},
{"s":20,"v":3,"x":20.2,"y":10.9},{"s":20,"v":3,"x":21.7,"y":9.8},{"s":20,"v":3,"x":23.3,"y":11.1},{"s":20,"v":3,"x":22,"y":12.2},
{"s":21,"v":3,"x":26.8,"y":5.4},{"s":21,"v":3,"x":27.2,"y":5},{"s":21,"v":3,"x":27.8,"y":5.4},{"s":21,"v":3,"x":27.3,"y":5.9},
{"s":22,"v":4,"x":16.2,"y":6.7},{"s":22,"v":4,"x":16.8,"y":6.4},{"s":22,"v":4,"x":17.4,"y":6.7},{"s":22,"v":4,"x":16.8,"y":7},
{"s":23,"v":2,"x":34.2,"y":16.4},{"s":23,"v":2,"x":34.2,"y":18},{"s":23,"v":2,"x":56.3,"y":18},{"s":23,"v":2,"x":56,"y":16.4},{"s":23,"v":2,"x":53.4,"y":9.8},{"s":23,"v":2,"x":49.1,"y":12},{"s":23,"v":2,"x":45.7,"y":14.2},{"s":23,"v":2,"x":42.8,"y":14.2},{"s":23,"v":2,"x":40.9,"y":11.7},{"s":23,"v":2,"x":40.9,"y":9.6},{"s":23,"v":2,"x":43.8,"y":6.7},{"s":23,"v":2,"x":45.2,"y":5.4},{"s":23,"v":2,"x":45,"y":3.5},{"s":23,"v":2,"x":42.8,"y":2.2},{"s":23,"v":2,"x":39.5,"y":2.8},{"s":23,"v":2,"x":37.8,"y":6.4},{"s":23,"v":2,"x":35.9,"y":9.8},
{"s":24,"v":3,"x":40.2,"y":4.5},{"s":24,"v":3,"x":42.4,"y":2.5},{"s":24,"v":3,"x":44.8,"y":3.5},{"s":24,"v":3,"x":45,"y":5.2},{"s":24,"v":3,"x":42.8,"y":6.4},{"s":24,"v":3,"x":40.5,"y":5.9},
{"s":25,"v":4,"x":41.4,"y":4.2},{"s":25,"v":4,"x":42.6,"y":3.3},{"s":25,"v":4,"x":44.5,"y":4},{"s":25,"v":4,"x":44.3,"y":5.2},{"s":25,"v":4,"x":42.6,"y":5.6},{"s":25,"v":4,"x":41.6,"y":5.3},
{"s":26,"v":3,"x":36,"y":16.4},{"s":26,"v":3,"x":37.5,"y":14.7},{"s":26,"v":3,"x":39.5,"y":14.7},{"s":26,"v":3,"x":41.2,"y":16.4},{"s":26,"v":3,"x":38.6,"y":18},
{"s":27,"v":3,"x":44.3,"y":16.4},{"s":27,"v":3,"x":48.1,"y":14.2},{"s":27,"v":3,"x":52,"y":13.4},{"s":27,"v":3,"x":54.4,"y":15.3},{"s":27,"v":3,"x":54.9,"y":18},{"s":27,"v":3,"x":44.3,"y":18},
{"s":28,"v":4,"x":46.5,"y":16.4},{"s":28,"v":4,"x":49.1,"y":14.7},{"s":28,"v":4,"x":52,"y":14.7},{"s":28,"v":4,"x":53.2,"y":16.4},{"s":28,"v":4,"x":53.2,"y":18},{"s":28,"v":4,"x":46.5,"y":18},
{"s":29,"v":5,"x":48.1,"y":16.1},{"s":29,"v":5,"x":50,"y":15.4},{"s":29,"v":5,"x":52,"y":15.9},{"s":29,"v":5,"x":52.7,"y":16.6},{"s":29,"v":5,"x":50,"y":18},
{"s":30,"v":2,"x":67.5,"y":10},{"s":30,"v":2,"x":68.3,"y":7.1},{"s":30,"v":2,"x":70.2,"y":5.7},{"s":30,"v":2,"x":72.2,"y":5.6},{"s":30,"v":2,"x":76.3,"y":5.7},{"s":30,"v":2,"x":78.2,"y":7.6},{"s":30,"v":2,"x":79.4,"y":11},{"s":30,"v":2,"x":80.4,"y":13.9},{"s":30,"v":2,"x":82.3,"y":14.8},{"s":30,"v":2,"x":87.1,"y":13},{"s":30,"v":2,"x":88.8,"y":11.3},{"s":30,"v":2,"x":90.8,"y":10},{"s":30,"v":2,"x":92.2,"y":7.9},{"s":30,"v":2,"x":93.7,"y":5.7},{"s":30,"v":2,"x":96.8,"y":4.6},{"s":30,"v":2,"x":102.1,"y":4.5},{"s":30,"v":2,"x":105,"y":6.4},{"s":30,"v":2,"x":106.6,"y":9.6},{"s":30,"v":2,"x":106,"y":12},{"s":30,"v":2,"x":102.6,"y":14.9},{"s":30,"v":2,"x":102.6,"y":18},{"s":30,"v":2,"x":68.3,"y":18},{"s":30,"v":2,"x":68.3,"y":16.4},
{"s":31,"v":1,"x":80.4,"y":16.4},{"s":31,"v":1,"x":81.1,"y":15.1},{"s":31,"v":1,"x":83,"y":16},{"s":31,"v":1,"x":83.8,"y":16.5},{"s":31,"v":1,"x":82,"y":18},
{"s":32,"v":3,"x":83.3,"y":16.4},{"s":32,"v":3,"x":86.7,"y":14.7},{"s":32,"v":3,"x":91.5,"y":14},{"s":32,"v":3,"x":95.4,"y":14.7},{"s":32,"v":3,"x":97.1,"y":16.4},{"s":32,"v":3,"x":90,"y":18},
{"s":33,"v":4,"x":86,"y":16.4},{"s":33,"v":4,"x":88.6,"y":15.1},{"s":33,"v":4,"x":92.5,"y":15.1},{"s":33,"v":4,"x":93.9,"y":16.4},{"s":33,"v":4,"x":90,"y":18},
{"s":34,"v":5,"x":88.6,"y":16.4},{"s":34,"v":5,"x":90.5,"y":15.6},{"s":34,"v":5,"x":92.5,"y":16.4},{"s":34,"v":5,"x":90.5,"y":18},
{"s":35,"v":3,"x":93.2,"y":9.6},{"s":35,"v":3,"x":94.9,"y":6.9},{"s":35,"v":3,"x":98.3,"y":5.4},{"s":35,"v":3,"x":102.1,"y":5.7},{"s":35,"v":3,"x":104.5,"y":8.1},{"s":35,"v":3,"x":104.8,"y":10.3},{"s":35,"v":3,"x":102.1,"y":12.2},{"s":35,"v":3,"x":98.3,"y":12.7},{"s":35,"v":3,"x":94.9,"y":12.2},
{"s":36,"v":4,"x":95.4,"y":8.8},{"s":36,"v":4,"x":96.8,"y":6.9},{"s":36,"v":4,"x":99.7,"y":6.4},{"s":36,"v":4,"x":102.6,"y":7.1},{"s":36,"v":4,"x":103.8,"y":9.1},{"s":36,"v":4,"x":102.6,"y":10.8},{"s":36,"v":4,"x":99.2,"y":11.5},{"s":36,"v":4,"x":96.3,"y":10.9},
{"s":37,"v":5,"x":96.8,"y":8.6},{"s":37,"v":5,"x":98,"y":7.4},{"s":37,"v":5,"x":100.7,"y":7.6},{"s":37,"v":5,"x":102.4,"y":8.8},{"s":37,"v":5,"x":101.6,"y":9.8},{"s":37,"v":5,"x":99.5,"y":10.3},{"s":37,"v":5,"x":97.6,"y":9.8},
{"s":38,"v":2,"x":106.4,"y":2.8},{"s":38,"v":2,"x":108.1,"y":1.8},{"s":38,"v":2,"x":112,"y":1.3},{"s":38,"v":2,"x":117.8,"y":1.5},{"s":38,"v":2,"x":119.2,"y":2.8},{"s":38,"v":2,"x":118,"y":4.2},{"s":38,"v":2,"x":117.3,"y":5.9},{"s":38,"v":2,"x":118.3,"y":8.4},{"s":38,"v":2,"x":117.8,"y":10.3},{"s":38,"v":2,"x":115.7,"y":9.8},{"s":38,"v":2,"x":112.8,"y":8.4},{"s":38,"v":2,"x":109,"y":7.1},{"s":38,"v":2,"x":107.8,"y":4.2},
{"s":39,"v":3,"x":107,"y":2.8},{"s":39,"v":3,"x":112,"y":2},{"s":39,"v":3,"x":116.9,"y":2.5},{"s":39,"v":3,"x":116.9,"y":4.7},{"s":39,"v":3,"x":116.2,"y":7.4},{"s":39,"v":3,"x":111.4,"y":7.1},{"s":39,"v":3,"x":108.6,"y":5.4},
{"s":40,"v":4,"x":109.6,"y":2.8},{"s":40,"v":4,"x":112.8,"y":2.3},{"s":40,"v":4,"x":114.9,"y":3},{"s":40,"v":4,"x":114.7,"y":5.7},{"s":40,"v":4,"x":112.3,"y":6.9},{"s":40,"v":4,"x":111.4,"y":6.2},
{"s":41,"v":5,"x":110.8,"y":3},{"s":41,"v":5,"x":112.5,"y":2.8},{"s":41,"v":5,"x":114.2,"y":3.3},{"s":41,"v":5,"x":114.2,"y":5},{"s":41,"v":5,"x":112.5,"y":6.1},{"s":41,"v":5,"x":111,"y":5},
{"s":42,"v":6,"x":111.5,"y":3},{"s":42,"v":6,"x":112.5,"y":3},{"s":42,"v":6,"x":113.7,"y":3.3},{"s":42,"v":6,"x":113.2,"y":4.2},{"s":42,"v":6,"x":112.5,"y":4.5},{"s":42,"v":6,"x":111.8,"y":4},
{"s":43,"v":-1,"x":111.3,"y":1.6},{"s":43,"v":-1,"x":112.5,"y":1.3},{"s":43,"v":-1,"x":114,"y":1.6},{"s":43,"v":-1,"x":112.8,"y":2.9},
{"s":44,"v":2,"x":124.1,"y":5.7},{"s":44,"v":2,"x":125.5,"y":3.7},{"s":44,"v":2,"x":128.8,"y":3},{"s":44,"v":2,"x":133.2,"y":3.3},{"s":44,"v":2,"x":134.6,"y":4.7},{"s":44,"v":2,"x":135.4,"y":6.9},{"s":44,"v":2,"x":141,"y":6.9},{"s":44,"v":2,"x":141,"y":8.8},{"s":44,"v":2,"x":136.5,"y":9.3},{"s":44,"v":2,"x":131,"y":9.5},{"s":44,"v":2,"x":126.6,"y":8.3},
{"s":45,"v":3,"x":124.3,"y":5.9},{"s":45,"v":3,"x":125.8,"y":4},{"s":45,"v":3,"x":128.8,"y":3.6},{"s":45,"v":3,"x":131.8,"y":4.5},{"s":45,"v":3,"x":132.5,"y":5.9},{"s":45,"v":3,"x":131.3,"y":7.6},{"s":45,"v":3,"x":127.7,"y":8},{"s":45,"v":3,"x":125.2,"y":7.1},
{"s":46,"v":4,"x":125.5,"y":5.9},{"s":46,"v":4,"x":126.9,"y":4.5},{"s":46,"v":4,"x":129.6,"y":4.5},{"s":46,"v":4,"x":130.7,"y":5.9},{"s":46,"v":4,"x":129.9,"y":7.1},{"s":46,"v":4,"x":127.4,"y":7.4},{"s":46,"v":4,"x":126,"y":6.6},
{"s":47,"v":5,"x":127.4,"y":6.7},{"s":47,"v":5,"x":127.4,"y":5.4},{"s":47,"v":5,"x":128.5,"y":5},{"s":47,"v":5,"x":129.3,"y":6.2},{"s":47,"v":5,"x":129.1,"y":6.9},
{"s":50,"v":3,"x":68.5,"y":18},{"s":50,"v":3,"x":68.4,"y":10},{"s":50,"v":3,"x":69.3,"y":7.3},{"s":50,"v":3,"x":72,"y":6},{"s":50,"v":3,"x":75.5,"y":6},{"s":50,"v":3,"x":77.3,"y":7.8},{"s":50,"v":3,"x":78.3,"y":11},{"s":50,"v":3,"x":79.5,"y":18},
{"s":51,"v":4,"x":72,"y":15.9},{"s":51,"v":4,"x":69.6,"y":14},{"s":51,"v":4,"x":68.9,"y":10},{"s":51,"v":4,"x":69.8,"y":7.7},{"s":51,"v":4,"x":72,"y":6.4},{"s":51,"v":4,"x":75.3,"y":6.4},{"s":51,"v":4,"x":76.8,"y":8},{"s":51,"v":4,"x":77.6,"y":11},{"s":51,"v":4,"x":77,"y":14.5},{"s":51,"v":4,"x":75,"y":15.9},
{"s":52,"v":5,"x":73,"y":15.1},{"s":52,"v":5,"x":70.4,"y":13.5},{"s":52,"v":5,"x":69.4,"y":10},{"s":52,"v":5,"x":70.2,"y":8},{"s":52,"v":5,"x":72.2,"y":6.7},{"s":52,"v":5,"x":75,"y":6.7},{"s":52,"v":5,"x":76.4,"y":8.2},{"s":52,"v":5,"x":77.2,"y":11},{"s":52,"v":5,"x":76,"y":14},
{"s":53,"v":6,"x":73,"y":14.4},{"s":53,"v":6,"x":70.8,"y":13},{"s":53,"v":6,"x":69.9,"y":10},{"s":53,"v":6,"x":70.7,"y":8.2},{"s":53,"v":6,"x":72.4,"y":7},{"s":53,"v":6,"x":74.8,"y":7},{"s":53,"v":6,"x":76,"y":8.4},{"s":53,"v":6,"x":76.8,"y":10.8},{"s":53,"v":6,"x":75.6,"y":13.4},
{"s":54,"v":7,"x":73,"y":13.8},{"s":54,"v":7,"x":71.2,"y":12.4},{"s":54,"v":7,"x":70.4,"y":10},{"s":54,"v":7,"x":71.1,"y":8.4},{"s":54,"v":7,"x":72.6,"y":7.2},{"s":54,"v":7,"x":74.6,"y":7.2},{"s":54,"v":7,"x":75.6,"y":8.6},{"s":54,"v":7,"x":76.3,"y":10.6},{"s":54,"v":7,"x":75.2,"y":12.8},
{"s":55,"v":8,"x":73,"y":13.2},{"s":55,"v":8,"x":71.6,"y":12},{"s":55,"v":8,"x":70.9,"y":10},{"s":55,"v":8,"x":71.5,"y":8.6},{"s":55,"v":8,"x":72.8,"y":7.5},{"s":55,"v":8,"x":74.4,"y":7.5},{"s":55,"v":8,"x":75.2,"y":8.8},{"s":55,"v":8,"x":75.8,"y":10.4},{"s":55,"v":8,"x":74.8,"y":12.2},
{"s":56,"v":9,"x":73,"y":12.6},{"s":56,"v":9,"x":72,"y":11.5},{"s":56,"v":9,"x":71.4,"y":10},{"s":56,"v":9,"x":72,"y":8.8},{"s":56,"v":9,"x":73,"y":8},{"s":56,"v":9,"x":74.2,"y":8},{"s":56,"v":9,"x":74.8,"y":9},{"s":56,"v":9,"x":75.3,"y":10.2},{"s":56,"v":9,"x":74.4,"y":11.6},
{"s":57,"v":-1,"x":71.5,"y":7},{"s":57,"v":-1,"x":74,"y":7},{"s":57,"v":-1,"x":72.9,"y":8}
],
"p3":[
{"s":1,"v":0,"x":-4,"y":-0.9},{"s":1,"v":0,"x":-4,"y":6.4},{"s":1,"v":0,"x":8.8,"y":6.2},{"s":1,"v":0,"x":11.8,"y":3.5},{"s":1,"v":0,"x":18.8,"y":1.6},{"s":1,"v":0,"x":26,"y":1.6},{"s":1,"v":0,"x":27.9,"y":2},{"s":1,"v":0,"x":32.7,"y":1.8},{"s":1,"v":0,"x":37.1,"y":3.3},{"s":1,"v":0,"x":37.8,"y":4.5},{"s":1,"v":0,"x":39.5,"y":1.8},{"s":1,"v":0,"x":41.9,"y":0.6},{"s":1,"v":0,"x":45.7,"y":1.2},{"s":1,"v":0,"x":46.4,"y":4.7},{"s":1,"v":0,"x":44.3,"y":9.6},{"s":1,"v":0,"x":45.5,"y":11.1},{"s":1,"v":0,"x":49.1,"y":8.1},{"s":1,"v":0,"x":50.5,"y":5.2},{"s":1,"v":0,"x":54.4,"y":3},{"s":1,"v":0,"x":51.5,"y":0.3},{"s":1,"v":0,"x":51.2,"y":-0.9},
{"s":2,"v":1,"x":-4,"y":1.2},{"s":2,"v":1,"x":4.9,"y":1.1},{"s":2,"v":1,"x":9.9,"y":0.2},{"s":2,"v":1,"x":10.3,"y":-0.6},{"s":2,"v":1,"x":-4,"y":-1},
{"s":3,"v":-1,"x":33.5,"y":0},{"s":3,"v":-1,"x":35.4,"y":0.7},{"s":3,"v":-1,"x":37.1,"y":0},{"s":3,"v":-1,"x":35.4,"y":-0.8},
{"s":4,"v":-1,"x":38.2,"y":0},{"s":4,"v":-1,"x":39.4,"y":0.6},{"s":4,"v":-1,"x":41,"y":0},{"s":4,"v":-1,"x":39.4,"y":-0.8},
{"s":5,"v":-1,"x":47.6,"y":3.5},{"s":5,"v":-1,"x":49.1,"y":2.2},{"s":5,"v":-1,"x":50,"y":2.5},{"s":5,"v":-1,"x":49.6,"y":3.7},{"s":5,"v":-1,"x":48.1,"y":4.5},
{"s":6,"v":2,"x":-3,"y":7.6},{"s":6,"v":2,"x":8.8,"y":7.4},{"s":6,"v":2,"x":11.4,"y":4.7},{"s":6,"v":2,"x":15.7,"y":2.5},{"s":6,"v":2,"x":19.8,"y":1.8},{"s":6,"v":2,"x":26,"y":2.2},{"s":6,"v":2,"x":28.4,"y":2.5},{"s":6,"v":2,"x":32.7,"y":2.5},{"s":6,"v":2,"x":36.1,"y":3},{"s":6,"v":2,"x":37.5,"y":5},{"s":6,"v":2,"x":38.3,"y":6.4},{"s":6,"v":2,"x":39,"y":3.3},{"s":6,"v":2,"x":40.4,"y":1.3},{"s":6,"v":2,"x":43.8,"y":1.1},{"s":6,"v":2,"x":45.8,"y":1.8},{"s":6,"v":2,"x":45.8,"y":4.7},{"s":6,"v":2,"x":43.8,"y":7.1},{"s":6,"v":2,"x":40.9,"y":7.6},{"s":6,"v":2,"x":39,"y":7.5},{"s":6,"v":2,"x":40.4,"y":10.8},{"s":6,"v":2,"x":42.8,"y":12.7},{"s":6,"v":2,"x":46.7,"y":12.7},{"s":6,"v":2,"x":48.1,"y":10},{"s":6,"v":2,"x":48.8,"y":7.9},{"s":6,"v":2,"x":51.5,"y":5},{"s":6,"v":2,"x":54.4,"y":3},{"s":6,"v":2,"x":51.5,"y":0.3},{"s":6,"v":2,"x":51.2,"y":-0.9},{"s":6,"v":2,"x":99.8,"y":-0.9},{"s":6,"v":2,"x":99.3,"y":2.8},{"s":6,"v":2,"x":93,"y":5.5},{"s":6,"v":2,"x":87,"y":8},{"s":6,"v":2,"x":84,"y":14},{"s":6,"v":2,"x":79,"y":14.5},{"s":6,"v":2,"x":76,"y":10},{"s":6,"v":2,"x":74,"y":5},{"s":6,"v":2,"x":70,"y":4.2},{"s":6,"v":2,"x":63,"y":4.1},{"s":6,"v":2,"x":60.9,"y":4},{"s":6,"v":2,"x":63.5,"y":7.1},{"s":6,"v":2,"x":62.5,"y":9.1},{"s":6,"v":2,"x":58.2,"y":12},{"s":6,"v":2,"x":56.5,"y":16.4},{"s":6,"v":2,"x":56.5,"y":18},{"s":6,"v":2,"x":33.5,"y":18},{"s":6,"v":2,"x":33.5,"y":14.9},{"s":6,"v":2,"x":31.8,"y":13.4},{"s":6,"v":2,"x":25,"y":13.9},{"s":6,"v":2,"x":18,"y":13.4},{"s":6,"v":2,"x":8.8,"y":13.9},{"s":6,"v":2,"x":-3,"y":13.4},
{"s":7,"v":1,"x":0,"y":14.5},{"s":7,"v":1,"x":8,"y":14.5},{"s":7,"v":1,"x":20,"y":14},{"s":7,"v":1,"x":30,"y":14},{"s":7,"v":1,"x":32.7,"y":15.5},{"s":7,"v":1,"x":32.7,"y":18},{"s":7,"v":1,"x":-3,"y":18},
{"s":8,"v":0,"x":1.1,"y":16.4},{"s":8,"v":0,"x":1.8,"y":15.1},{"s":8,"v":0,"x":8.8,"y":15.4},{"s":8,"v":0,"x":18.8,"y":14.9},{"s":8,"v":0,"x":25,"y":15.1},{"s":8,"v":0,"x":31.2,"y":14.7},{"s":8,"v":0,"x":32.2,"y":16.4},{"s":8,"v":0,"x":32.2,"y":18},{"s":8,"v":0,"x":1.1,"y":18},
{"s":9,"v":-1,"x":2.6,"y":16.4},{"s":9,"v":-1,"x":4.2,"y":15.6},{"s":9,"v":-1,"x":6.5,"y":16.4},{"s":9,"v":-1,"x":4.2,"y":17.5},
{"s":10,"v":0,"x":58,"y":16.4},{"s":10,"v":0,"x":58.5,"y":13.4},{"s":10,"v":0,"x":61.1,"y":12.5},{"s":10,"v":0,"x":63,"y":13.9},{"s":10,"v":0,"x":63.5,"y":16.4},{"s":10,"v":0,"x":60.5,"y":18},
{"s":11,"v":-1,"x":59.4,"y":16.4},{"s":11,"v":-1,"x":60.4,"y":14.8},{"s":11,"v":-1,"x":61.8,"y":16.4},{"s":11,"v":-1,"x":60.4,"y":17.5},
{"s":12,"v":2,"x":110,"y":18},{"s":12,"v":2,"x":110,"y":16.4},{"s":12,"v":2,"x":110.2,"y":14.4},{"s":12,"v":2,"x":112.4,"y":13.2},{"s":12,"v":2,"x":126.2,"y":12.2},{"s":12,"v":2,"x":141,"y":12.2},{"s":12,"v":2,"x":141,"y":18},
{"s":13,"v":1,"x":113,"y":18},{"s":13,"v":1,"x":113,"y":16.4},{"s":13,"v":1,"x":114.3,"y":14.9},{"s":13,"v":1,"x":118.2,"y":13.9},{"s":13,"v":1,"x":120.7,"y":14.2},{"s":13,"v":1,"x":125.6,"y":13},{"s":13,"v":1,"x":131.6,"y":13},{"s":13,"v":1,"x":141,"y":12.9},{"s":13,"v":1,"x":141,"y":18},
{"s":14,"v":0,"x":114.8,"y":16.4},{"s":14,"v":0,"x":115.7,"y":15.1},{"s":14,"v":0,"x":118.2,"y":14.4},{"s":14,"v":0,"x":120.7,"y":16.1},{"s":14,"v":0,"x":121.2,"y":18},{"s":14,"v":0,"x":114.8,"y":18},
{"s":15,"v":0,"x":128.9,"y":16.4},{"s":15,"v":0,"x":129.5,"y":14.9},{"s":15,"v":0,"x":134.4,"y":13.7},{"s":15,"v":0,"x":139.1,"y":13.4},{"s":15,"v":0,"x":139.3,"y":16.4},{"s":15,"v":0,"x":139.3,"y":18},{"s":15,"v":0,"x":128.9,"y":18},
{"s":16,"v":3,"x":99.8,"y":-0.6},{"s":16,"v":3,"x":105.6,"y":-0.6},{"s":16,"v":3,"x":107.3,"y":1.3},{"s":16,"v":3,"x":110,"y":0.8},{"s":16,"v":3,"x":115.3,"y":0.8},{"s":16,"v":3,"x":118.6,"y":1.6},{"s":16,"v":3,"x":122.9,"y":2.2},{"s":16,"v":3,"x":126.7,"y":1.8},{"s":16,"v":3,"x":130.3,"y":0},{"s":16,"v":3,"x":130.3,"y":-0.9},{"s":16,"v":3,"x":141,"y":-0.9},{"s":16,"v":3,"x":141,"y":12.2},{"s":16,"v":3,"x":126.2,"y":12.2},{"s":16,"v":3,"x":112.4,"y":13.2},{"s":16,"v":3,"x":110.2,"y":14.4},{"s":16,"v":3,"x":110,"y":16.4},{"s":16,"v":3,"x":110,"y":18},{"s":16,"v":3,"x":64.7,"y":18},{"s":16,"v":3,"x":64.7,"y":16.4},{"s":16,"v":3,"x":65.9,"y":12},{"s":16,"v":3,"x":68.3,"y":8.1},{"s":16,"v":3,"x":70.2,"y":6.4},{"s":16,"v":3,"x":72.3,"y":5.7},{"s":16,"v":3,"x":75.2,"y":5.9},{"s":16,"v":3,"x":77.1,"y":6.9},{"s":16,"v":3,"x":78.1,"y":8.6},{"s":16,"v":3,"x":79,"y":13},{"s":16,"v":3,"x":80.5,"y":14.2},{"s":16,"v":3,"x":85,"y":13.4},{"s":16,"v":3,"x":86.8,"y":11},{"s":16,"v":3,"x":86.5,"y":7.6},{"s":16,"v":3,"x":89.2,"y":6.2},{"s":16,"v":3,"x":92.6,"y":5},{"s":16,"v":3,"x":98.6,"y":3.3},{"s":16,"v":3,"x":99.6,"y":1.3},
{"s":17,"v":1,"x":103.2,"y":6.2},{"s":17,"v":1,"x":104.4,"y":3.7},{"s":17,"v":1,"x":106.6,"y":3.2},{"s":17,"v":1,"x":108.7,"y":6.4},{"s":17,"v":1,"x":109,"y":10},{"s":17,"v":1,"x":105.1,"y":13.4},{"s":17,"v":1,"x":101.8,"y":13.9},{"s":17,"v":1,"x":102.7,"y":12},{"s":17,"v":1,"x":103.7,"y":8.1},
{"s":18,"v":0,"x":105.1,"y":6.7},{"s":18,"v":0,"x":106.1,"y":5.4},{"s":18,"v":0,"x":107.5,"y":7.9},{"s":18,"v":0,"x":106.1,"y":8.8},{"s":18,"v":0,"x":105.4,"y":7.9},
{"s":19,"v":1,"x":77.6,"y":4.9},{"s":19,"v":1,"x":80.2,"y":3.8},{"s":19,"v":1,"x":85.3,"y":3.6},{"s":19,"v":1,"x":86.5,"y":5.2},{"s":19,"v":1,"x":86,"y":7.6},{"s":19,"v":1,"x":86.2,"y":11},{"s":19,"v":1,"x":84.6,"y":13},{"s":19,"v":1,"x":80.7,"y":13.7},{"s":19,"v":1,"x":79.3,"y":12.2},{"s":19,"v":1,"x":78.3,"y":8.3},
{"s":20,"v":0,"x":80.2,"y":5.4},{"s":20,"v":0,"x":83.1,"y":3.8},{"s":20,"v":0,"x":86,"y":5.7},{"s":20,"v":0,"x":84.6,"y":8.1},{"s":20,"v":0,"x":86.8,"y":10.5},{"s":20,"v":0,"x":85.8,"y":12},{"s":20,"v":0,"x":82.9,"y":12.6},{"s":20,"v":0,"x":81,"y":10.5},
{"s":21,"v":1,"x":58.2,"y":0},{"s":21,"v":1,"x":60.1,"y":1.1},{"s":21,"v":1,"x":64.7,"y":0.1},{"s":21,"v":1,"x":60,"y":-1},
{"s":22,"v":1,"x":74,"y":0},{"s":22,"v":1,"x":76.1,"y":1.1},{"s":22,"v":1,"x":80,"y":0.3},{"s":22,"v":1,"x":77,"y":-1},
{"s":23,"v":1,"x":95,"y":0},{"s":23,"v":1,"x":95.9,"y":0.8},{"s":23,"v":1,"x":96.9,"y":0},{"s":23,"v":1,"x":96,"y":-1},
{"s":24,"v":3,"x":75.9,"y":3.3},{"s":24,"v":3,"x":76.4,"y":2.2},{"s":24,"v":3,"x":79.8,"y":2},{"s":24,"v":3,"x":80,"y":2.9},{"s":24,"v":3,"x":81,"y":2.8},{"s":24,"v":3,"x":81.9,"y":2.2},{"s":24,"v":3,"x":89.2,"y":1.8},{"s":24,"v":3,"x":89.5,"y":2.8},{"s":24,"v":3,"x":81.4,"y":3.3},{"s":24,"v":3,"x":77.6,"y":4.2},
{"s":25,"v":3,"x":65.4,"y":2.4},{"s":25,"v":3,"x":69.8,"y":2.2},{"s":25,"v":3,"x":70.5,"y":3},{"s":25,"v":3,"x":69.8,"y":3.6},{"s":25,"v":3,"x":66,"y":3.3},
{"s":26,"v":4,"x":76.1,"y":2.5},{"s":26,"v":4,"x":77.8,"y":2.5},{"s":26,"v":4,"x":77.1,"y":4.1},
{"s":27,"v":0,"x":92.3,"y":2.5},{"s":27,"v":0,"x":93.3,"y":2.3},{"s":27,"v":0,"x":93.8,"y":2.8},{"s":27,"v":0,"x":92.8,"y":3},
{"s":28,"v":0,"x":87,"y":4},{"s":28,"v":0,"x":88,"y":4},{"s":28,"v":0,"x":87.5,"y":5},
{"s":29,"v":0,"x":71.3,"y":3.3},{"s":29,"v":0,"x":72.3,"y":2},{"s":29,"v":0,"x":74,"y":3.3},{"s":29,"v":0,"x":73.5,"y":4.7},{"s":29,"v":0,"x":72.3,"y":4.7},
{"s":30,"v":3,"x":13.4,"y":5.7},{"s":30,"v":3,"x":16.5,"y":3.3},{"s":30,"v":3,"x":21.7,"y":1.7},{"s":30,"v":3,"x":25,"y":2.2},{"s":30,"v":3,"x":27.2,"y":4.7},{"s":30,"v":3,"x":28.4,"y":2.5},{"s":30,"v":3,"x":32.7,"y":2.2},{"s":30,"v":3,"x":35.6,"y":2.8},{"s":30,"v":3,"x":37.1,"y":5.2},{"s":30,"v":3,"x":37.5,"y":6.4},{"s":30,"v":3,"x":37.1,"y":9.8},{"s":30,"v":3,"x":37.8,"y":11.3},{"s":30,"v":3,"x":41.4,"y":13},{"s":30,"v":3,"x":47.2,"y":13.4},{"s":30,"v":3,"x":48.6,"y":12},{"s":30,"v":3,"x":49.8,"y":7.9},{"s":30,"v":3,"x":52.5,"y":4.5},{"s":30,"v":3,"x":56.8,"y":3.6},{"s":30,"v":3,"x":60.1,"y":4.5},{"s":30,"v":3,"x":61.8,"y":6.9},{"s":30,"v":3,"x":56,"y":12},{"s":30,"v":3,"x":55.3,"y":16.4},{"s":30,"v":3,"x":55.3,"y":18},{"s":30,"v":3,"x":34.2,"y":18},{"s":30,"v":3,"x":34.2,"y":12.5},{"s":30,"v":3,"x":29.4,"y":11.3},{"s":30,"v":3,"x":27,"y":7.9},{"s":30,"v":3,"x":27,"y":6.7},{"s":30,"v":3,"x":23.2,"y":7.9},{"s":30,"v":3,"x":16.8,"y":7.9},
{"s":31,"v":3,"x":-3,"y":9},{"s":31,"v":3,"x":0,"y":9.1},{"s":31,"v":3,"x":3.4,"y":10.5},{"s":31,"v":3,"x":0,"y":11.7},{"s":31,"v":3,"x":-3,"y":11.7},
{"s":32,"v":3,"x":5.7,"y":10.5},{"s":32,"v":3,"x":13.8,"y":8.3},{"s":32,"v":3,"x":14.2,"y":11.5},{"s":32,"v":3,"x":10.3,"y":12.2},
{"s":33,"v":3,"x":21,"y":10.9},{"s":33,"v":3,"x":22.2,"y":10},{"s":33,"v":3,"x":23.4,"y":11},{"s":33,"v":3,"x":22.2,"y":11.7},
{"s":34,"v":2,"x":136.9,"y":5.4},{"s":34,"v":2,"x":139.6,"y":4},{"s":34,"v":2,"x":141,"y":4},{"s":34,"v":2,"x":141,"y":6},
{"s":35,"v":4,"x":35.1,"y":18},{"s":35,"v":4,"x":35.3,"y":16.4},{"s":35,"v":4,"x":36.6,"y":14.4},{"s":35,"v":4,"x":40.4,"y":13.8},{"s":35,"v":4,"x":45.7,"y":14.7},{"s":35,"v":4,"x":48.6,"y":13.9},{"s":35,"v":4,"x":49.3,"y":9.1},{"s":35,"v":4,"x":51.5,"y":6.4},{"s":35,"v":4,"x":57.3,"y":4.5},{"s":35,"v":4,"x":59.9,"y":5.7},{"s":35,"v":4,"x":60.4,"y":6.9},{"s":35,"v":4,"x":55.8,"y":11},{"s":35,"v":4,"x":53.9,"y":13.4},{"s":35,"v":4,"x":54.1,"y":16.4},{"s":35,"v":4,"x":54.1,"y":18},
{"s":36,"v":5,"x":50.3,"y":8.8},{"s":36,"v":5,"x":52,"y":7.1},{"s":36,"v":5,"x":57.5,"y":5.2},{"s":36,"v":5,"x":58.9,"y":5.9},{"s":36,"v":5,"x":58.9,"y":6.9},{"s":36,"v":5,"x":54.8,"y":10.3},{"s":36,"v":5,"x":52.4,"y":13},{"s":36,"v":5,"x":50.7,"y":11.7},
{"s":37,"v":6,"x":51.3,"y":8.8},{"s":37,"v":6,"x":52.7,"y":7.6},{"s":37,"v":6,"x":57.5,"y":5.9},{"s":37,"v":6,"x":58.2,"y":6.7},{"s":37,"v":6,"x":54.8,"y":9.3},{"s":37,"v":6,"x":52.1,"y":11.5},{"s":37,"v":6,"x":51.3,"y":10.5},
{"s":38,"v":5,"x":36.3,"y":16.4},{"s":38,"v":5,"x":37.5,"y":14.2},{"s":38,"v":5,"x":40.4,"y":14.4},{"s":38,"v":5,"x":43.8,"y":16.1},{"s":38,"v":5,"x":49.1,"y":15.4},{"s":38,"v":5,"x":52,"y":15.1},{"s":38,"v":5,"x":52.7,"y":16.4},{"s":38,"v":5,"x":52.7,"y":18},{"s":38,"v":5,"x":36.3,"y":18},
{"s":39,"v":6,"x":37,"y":16.4},{"s":39,"v":6,"x":38.5,"y":14.9},{"s":39,"v":6,"x":40.9,"y":15.1},{"s":39,"v":6,"x":42.6,"y":16.4},{"s":39,"v":6,"x":40,"y":18},
{"s":40,"v":7,"x":38.5,"y":16.4},{"s":40,"v":7,"x":39.9,"y":15.4},{"s":40,"v":7,"x":41.9,"y":16.4},{"s":40,"v":7,"x":40,"y":18},
{"s":41,"v":4,"x":14.7,"y":5.7},{"s":41,"v":4,"x":17.3,"y":3.5},{"s":41,"v":4,"x":21.7,"y":2.3},{"s":41,"v":4,"x":24.8,"y":2.5},{"s":41,"v":4,"x":27,"y":4.7},{"s":41,"v":4,"x":25.6,"y":6.4},{"s":41,"v":4,"x":22.2,"y":7.6},{"s":41,"v":4,"x":17.3,"y":7.4},
{"s":42,"v":5,"x":15.7,"y":5.6},{"s":42,"v":5,"x":17.9,"y":3.7},{"s":42,"v":5,"x":21.7,"y":2.7},{"s":42,"v":5,"x":24.3,"y":2.9},{"s":42,"v":5,"x":26.2,"y":4.7},{"s":42,"v":5,"x":25,"y":6.2},{"s":42,"v":5,"x":22.1,"y":7.2},{"s":42,"v":5,"x":17.9,"y":7},
{"s":43,"v":6,"x":16.7,"y":5.5},{"s":43,"v":6,"x":18.6,"y":4},{"s":43,"v":6,"x":21.6,"y":3.1},{"s":43,"v":6,"x":23.8,"y":3.3},{"s":43,"v":6,"x":25.4,"y":4.8},{"s":43,"v":6,"x":24.4,"y":6},{"s":43,"v":6,"x":22,"y":6.8},{"s":43,"v":6,"x":18.6,"y":6.7},
{"s":44,"v":7,"x":17.8,"y":5.4},{"s":44,"v":7,"x":19.2,"y":4.2},{"s":44,"v":7,"x":21.6,"y":3.5},{"s":44,"v":7,"x":23.3,"y":3.6},{"s":44,"v":7,"x":24.5,"y":4.8},{"s":44,"v":7,"x":23.8,"y":5.8},{"s":44,"v":7,"x":21.9,"y":6.4},{"s":44,"v":7,"x":19.2,"y":6.3},
{"s":45,"v":8,"x":18.8,"y":5.3},{"s":45,"v":8,"x":19.8,"y":4.4},{"s":45,"v":8,"x":21.6,"y":3.9},{"s":45,"v":8,"x":22.8,"y":4},{"s":45,"v":8,"x":23.7,"y":4.9},{"s":45,"v":8,"x":23.1,"y":5.6},{"s":45,"v":8,"x":21.8,"y":6},{"s":45,"v":8,"x":19.8,"y":6},
{"s":46,"v":9,"x":20.1,"y":5.1},{"s":46,"v":9,"x":20.7,"y":4.7},{"s":46,"v":9,"x":21.5,"y":4.5},{"s":46,"v":9,"x":22.2,"y":4.5},{"s":46,"v":9,"x":22.6,"y":4.9},{"s":46,"v":9,"x":22.3,"y":5.3},{"s":46,"v":9,"x":21.6,"y":5.5},{"s":46,"v":9,"x":20.7,"y":5.5},
{"s":47,"v":-1,"x":20.2,"y":1.5},{"s":47,"v":-1,"x":21.9,"y":1.2},{"s":47,"v":-1,"x":23.1,"y":1.8},{"s":47,"v":-1,"x":21.9,"y":3.3},
{"s":48,"v":4,"x":27.9,"y":5.2},{"s":48,"v":4,"x":29.4,"y":3},{"s":48,"v":4,"x":32.3,"y":2.5},{"s":48,"v":4,"x":35.1,"y":3},{"s":48,"v":4,"x":36.6,"y":5.7},{"s":48,"v":4,"x":35.6,"y":9.1},{"s":48,"v":4,"x":32.5,"y":10.3},{"s":48,"v":4,"x":29.4,"y":9.1},
{"s":49,"v":5,"x":28.4,"y":5.3},{"s":49,"v":5,"x":29.8,"y":3.3},{"s":49,"v":5,"x":32.3,"y":2.9},{"s":49,"v":5,"x":34.8,"y":3.3},{"s":49,"v":5,"x":36.1,"y":5.7},{"s":49,"v":5,"x":35.2,"y":8.7},{"s":49,"v":5,"x":32.5,"y":9.8},{"s":49,"v":5,"x":29.8,"y":8.7},
{"s":50,"v":6,"x":29,"y":5.4},{"s":50,"v":6,"x":30.1,"y":3.7},{"s":50,"v":6,"x":32.3,"y":3.3},{"s":50,"v":6,"x":34.5,"y":3.7},{"s":50,"v":6,"x":35.6,"y":5.7},{"s":50,"v":6,"x":34.8,"y":8.3},{"s":50,"v":6,"x":32.5,"y":9.2},{"s":50,"v":6,"x":30.1,"y":8.3},
{"s":51,"v":7,"x":29.5,"y":5.5},{"s":51,"v":7,"x":30.5,"y":4},{"s":51,"v":7,"x":32.3,"y":3.7},{"s":51,"v":7,"x":34.1,"y":4},{"s":51,"v":7,"x":35.1,"y":5.8},{"s":51,"v":7,"x":34.4,"y":7.9},{"s":51,"v":7,"x":32.5,"y":8.7},{"s":51,"v":7,"x":30.5,"y":7.9},
{"s":52,"v":8,"x":30.1,"y":5.5},{"s":52,"v":8,"x":30.8,"y":4.4},{"s":52,"v":8,"x":32.3,"y":4.1},{"s":52,"v":8,"x":33.8,"y":4.4},{"s":52,"v":8,"x":34.6,"y":5.8},{"s":52,"v":8,"x":34.1,"y":7.6},{"s":52,"v":8,"x":32.5,"y":8.2},{"s":52,"v":8,"x":30.8,"y":7.6},
{"s":53,"v":9,"x":30.6,"y":5.6},{"s":53,"v":9,"x":31.2,"y":4.2},{"s":53,"v":9,"x":32.4,"y":3.7},{"s":53,"v":9,"x":33.5,"y":4.2},{"s":53,"v":9,"x":34.1,"y":5.8},{"s":53,"v":9,"x":33.7,"y":7.3},{"s":53,"v":9,"x":32.4,"y":7.8},{"s":53,"v":9,"x":31.2,"y":7.3},
{"s":54,"v":10,"x":31.1,"y":5.7},{"s":54,"v":10,"x":31.6,"y":4.4},{"s":54,"v":10,"x":32.4,"y":3.9},{"s":54,"v":10,"x":33.2,"y":4.4},{"s":54,"v":10,"x":33.7,"y":5.7},{"s":54,"v":10,"x":33.3,"y":6.9},{"s":54,"v":10,"x":32.4,"y":7.4},{"s":54,"v":10,"x":31.6,"y":6.9},
{"s":55,"v":11,"x":31.5,"y":5.6},{"s":55,"v":11,"x":32.4,"y":4.2},{"s":55,"v":11,"x":33.2,"y":5.6},{"s":55,"v":11,"x":32.4,"y":6.9},
{"s":56,"v":12,"x":32,"y":5.6},{"s":56,"v":12,"x":32.4,"y":4.7},{"s":56,"v":12,"x":32.8,"y":5.6},{"s":56,"v":12,"x":32.4,"y":6.4},
{"s":57,"v":-1,"x":31.3,"y":2.9},{"s":57,"v":-1,"x":32.5,"y":2.5},{"s":57,"v":-1,"x":33.5,"y":2.9},{"s":57,"v":-1,"x":32.4,"y":4},
{"s":58,"v":4,"x":39.7,"y":3.3},{"s":58,"v":4,"x":41,"y":1.6},{"s":58,"v":4,"x":45,"y":1.6},{"s":58,"v":4,"x":45.7,"y":3.5},{"s":58,"v":4,"x":44.8,"y":5.7},{"s":58,"v":4,"x":42.8,"y":6.4},{"s":58,"v":4,"x":40.9,"y":5.7},
{"s":59,"v":5,"x":40.4,"y":3.3},{"s":59,"v":5,"x":41.6,"y":2},{"s":59,"v":5,"x":44.3,"y":2},{"s":59,"v":5,"x":45,"y":3.5},{"s":59,"v":5,"x":44.3,"y":5.2},{"s":59,"v":5,"x":42.8,"y":5.8},{"s":59,"v":5,"x":41.4,"y":5.2},
{"s":60,"v":6,"x":41.1,"y":3.3},{"s":60,"v":6,"x":41.9,"y":2.5},{"s":60,"v":6,"x":44.1,"y":2.5},{"s":60,"v":6,"x":44.5,"y":3.5},{"s":60,"v":6,"x":43.8,"y":4.7},{"s":60,"v":6,"x":42.8,"y":5.2},{"s":60,"v":6,"x":41.9,"y":4.7},
{"s":61,"v":7,"x":41.6,"y":3.3},{"s":61,"v":7,"x":42.6,"y":3},{"s":61,"v":7,"x":43.6,"y":3.3},{"s":61,"v":7,"x":43.8,"y":3.7},{"s":61,"v":7,"x":42.8,"y":4.5},{"s":61,"v":7,"x":42.1,"y":4},
{"s":62,"v":8,"x":42.1,"y":3},{"s":62,"v":8,"x":42.8,"y":3},{"s":62,"v":8,"x":43.6,"y":3},{"s":62,"v":8,"x":42.8,"y":4},
{"s":63,"v":-1,"x":41.4,"y":1.8},{"s":63,"v":-1,"x":41.9,"y":1.2},{"s":63,"v":-1,"x":43.8,"y":1.2},{"s":63,"v":-1,"x":44.2,"y":2},{"s":63,"v":-1,"x":42.8,"y":2.5},
{"s":64,"v":4,"x":65.6,"y":18},{"s":64,"v":4,"x":67.3,"y":10},{"s":64,"v":4,"x":71,"y":6.7},{"s":64,"v":4,"x":74,"y":6.4},{"s":64,"v":4,"x":76.6,"y":8.2},{"s":64,"v":4,"x":77.6,"y":10},{"s":64,"v":4,"x":78,"y":18},
{"s":65,"v":5,"x":66.3,"y":18},{"s":65,"v":5,"x":67.9,"y":10},{"s":65,"v":5,"x":71,"y":7},{"s":65,"v":5,"x":74,"y":6.7},{"s":65,"v":5,"x":76.1,"y":8.5},{"s":65,"v":5,"x":77.1,"y":10},{"s":65,"v":5,"x":77.5,"y":18},
{"s":66,"v":6,"x":66.9,"y":18},{"s":66,"v":6,"x":68.4,"y":10},{"s":66,"v":6,"x":71,"y":7.3},{"s":66,"v":6,"x":74,"y":7},{"s":66,"v":6,"x":75.7,"y":8.8},{"s":66,"v":6,"x":76.7,"y":10},{"s":66,"v":6,"x":77,"y":18},
{"s":67,"v":7,"x":67.5,"y":18},{"s":67,"v":7,"x":69,"y":10},{"s":67,"v":7,"x":71,"y":7.6},{"s":67,"v":7,"x":74,"y":7.3},{"s":67,"v":7,"x":75.3,"y":9.1},{"s":67,"v":7,"x":76.3,"y":10},{"s":67,"v":7,"x":76.6,"y":18},
{"s":68,"v":8,"x":68.3,"y":18},{"s":68,"v":8,"x":69.6,"y":10},{"s":68,"v":8,"x":71,"y":7.9},{"s":68,"v":8,"x":74,"y":7.6},{"s":68,"v":8,"x":74.9,"y":9.4},{"s":68,"v":8,"x":75.9,"y":10},{"s":68,"v":8,"x":76.2,"y":18},
{"s":69,"v":9,"x":69.5,"y":18},{"s":69,"v":9,"x":70.8,"y":10},{"s":69,"v":9,"x":71.5,"y":8.2},{"s":69,"v":9,"x":74,"y":8},{"s":69,"v":9,"x":74.8,"y":9.4},{"s":69,"v":9,"x":75.3,"y":10},{"s":69,"v":9,"x":76,"y":18},
{"s":70,"v":8,"x":72.5,"y":8.4},{"s":70,"v":8,"x":73.7,"y":8.4},{"s":70,"v":8,"x":73.6,"y":10},{"s":70,"v":8,"x":73,"y":11.3},{"s":70,"v":8,"x":72.5,"y":10},
{"s":71,"v":10,"x":69.3,"y":16.4},{"s":71,"v":10,"x":71.2,"y":14.9},{"s":71,"v":10,"x":73.1,"y":15.9},{"s":71,"v":10,"x":71.2,"y":18},
{"s":72,"v":-1,"x":71.7,"y":7.1},{"s":72,"v":-1,"x":73.7,"y":7.1},{"s":72,"v":-1,"x":74,"y":8},{"s":72,"v":-1,"x":72,"y":8},
{"s":73,"v":4,"x":91.8,"y":6.4},{"s":73,"v":4,"x":93.5,"y":5.4},{"s":73,"v":4,"x":98.4,"y":4.7},{"s":73,"v":4,"x":101.3,"y":3},{"s":73,"v":4,"x":102.2,"y":1.4},{"s":73,"v":4,"x":103.4,"y":3},{"s":73,"v":4,"x":103,"y":5.7},{"s":73,"v":4,"x":102.5,"y":7.4},{"s":73,"v":4,"x":103,"y":8.6},{"s":73,"v":4,"x":100.5,"y":13},{"s":73,"v":4,"x":100,"y":14.7},{"s":73,"v":4,"x":95.9,"y":15.1},{"s":73,"v":4,"x":94.3,"y":16.4},{"s":73,"v":4,"x":94.3,"y":18},{"s":73,"v":4,"x":87.2,"y":18},{"s":73,"v":4,"x":87.2,"y":16.4},{"s":73,"v":4,"x":92.6,"y":13},{"s":73,"v":4,"x":93.5,"y":11.5},{"s":73,"v":4,"x":93.3,"y":7.1},
{"s":74,"v":5,"x":93.5,"y":6.5},{"s":74,"v":5,"x":95.5,"y":5.2},{"s":74,"v":5,"x":99.8,"y":5},{"s":74,"v":5,"x":101.7,"y":7.6},{"s":74,"v":5,"x":102,"y":9.3},{"s":74,"v":5,"x":100.5,"y":12.5},{"s":74,"v":5,"x":96.9,"y":13.7},{"s":74,"v":5,"x":95,"y":12.5},{"s":74,"v":5,"x":94,"y":10},
{"s":75,"v":6,"x":94.5,"y":6.9},{"s":75,"v":6,"x":96.4,"y":5.7},{"s":75,"v":6,"x":99.6,"y":5.7},{"s":75,"v":6,"x":101.3,"y":8.1},{"s":75,"v":6,"x":101.5,"y":9.3},{"s":75,"v":6,"x":100,"y":12},{"s":75,"v":6,"x":96.9,"y":13},{"s":75,"v":6,"x":95.2,"y":11.7},{"s":75,"v":6,"x":94.5,"y":9.6},
{"s":76,"v":7,"x":95,"y":7.6},{"s":76,"v":7,"x":96.9,"y":6.2},{"s":76,"v":7,"x":99.3,"y":6.4},{"s":76,"v":7,"x":100.8,"y":8.3},{"s":76,"v":7,"x":100.8,"y":9.8},{"s":76,"v":7,"x":99.6,"y":11.5},{"s":76,"v":7,"x":97.1,"y":12.2},{"s":76,"v":7,"x":95.7,"y":11.3},{"s":76,"v":7,"x":95,"y":9.3},
{"s":77,"v":8,"x":95.5,"y":7.9},{"s":77,"v":8,"x":97.1,"y":6.7},{"s":77,"v":8,"x":99.1,"y":6.9},{"s":77,"v":8,"x":100.3,"y":8.3},{"s":77,"v":8,"x":100.3,"y":9.8},{"s":77,"v":8,"x":99.1,"y":11},{"s":77,"v":8,"x":97.4,"y":11.5},{"s":77,"v":8,"x":96,"y":10.5},{"s":77,"v":8,"x":95.5,"y":9.3},
{"s":78,"v":9,"x":96.4,"y":8.6},{"s":78,"v":9,"x":97.9,"y":7.1},{"s":78,"v":9,"x":99.3,"y":8.1},{"s":78,"v":9,"x":99.3,"y":9.8},{"s":78,"v":9,"x":97.9,"y":10.5},{"s":78,"v":9,"x":96.7,"y":9.8},
{"s":79,"v":4,"x":107.8,"y":2.8},{"s":79,"v":4,"x":109.5,"y":1.3},{"s":79,"v":4,"x":115.5,"y":1.1},{"s":79,"v":4,"x":117.4,"y":2.5},{"s":79,"v":4,"x":116.5,"y":4.5},{"s":79,"v":4,"x":117.2,"y":6.4},{"s":79,"v":4,"x":119.9,"y":7.9},{"s":79,"v":4,"x":119.4,"y":9.8},{"s":79,"v":4,"x":115.7,"y":11.5},{"s":79,"v":4,"x":112.1,"y":12},{"s":79,"v":4,"x":110.7,"y":10.5},{"s":79,"v":4,"x":111.4,"y":7.9},{"s":79,"v":4,"x":113.1,"y":6.4},{"s":79,"v":4,"x":110.7,"y":5.2},{"s":79,"v":4,"x":109,"y":4.2},
{"s":80,"v":5,"x":112.4,"y":9.3},{"s":80,"v":5,"x":113.8,"y":7.9},{"s":80,"v":5,"x":118.2,"y":7.6},{"s":80,"v":5,"x":118.7,"y":8.3},{"s":80,"v":5,"x":116.5,"y":10},{"s":80,"v":5,"x":112.7,"y":10.8},
{"s":81,"v":5,"x":108.7,"y":3},{"s":81,"v":5,"x":110.2,"y":1.6},{"s":81,"v":5,"x":114.8,"y":1.3},{"s":81,"v":5,"x":117,"y":2.5},{"s":81,"v":5,"x":115.5,"y":4.2},{"s":81,"v":5,"x":112.9,"y":5.2},{"s":81,"v":5,"x":110.5,"y":4.5},
{"s":82,"v":6,"x":109.5,"y":3},{"s":82,"v":6,"x":110.7,"y":1.9},{"s":82,"v":6,"x":114.5,"y":1.7},{"s":82,"v":6,"x":116.2,"y":2.8},{"s":82,"v":6,"x":115,"y":4},{"s":82,"v":6,"x":112.6,"y":4.7},{"s":82,"v":6,"x":110.7,"y":4.1},
{"s":83,"v":7,"x":110.2,"y":3},{"s":83,"v":7,"x":111.2,"y":2.2},{"s":83,"v":7,"x":114.3,"y":2},{"s":83,"v":7,"x":115.7,"y":2.9},{"s":83,"v":7,"x":114.5,"y":3.6},{"s":83,"v":7,"x":112.4,"y":4.1},{"s":83,"v":7,"x":110.9,"y":3.6},
{"s":84,"v":9,"x":110.4,"y":3},{"s":84,"v":9,"x":111.9,"y":2.5},{"s":84,"v":9,"x":113.8,"y":2.8},{"s":84,"v":9,"x":115,"y":2.9},{"s":84,"v":9,"x":113.8,"y":3.3},{"s":84,"v":9,"x":112.4,"y":3.6},{"s":84,"v":9,"x":111.2,"y":3.3},
{"s":85,"v":-1,"x":110.2,"y":1.8},{"s":85,"v":-1,"x":111.9,"y":0.9},{"s":85,"v":-1,"x":113.8,"y":1.3},{"s":85,"v":-1,"x":115.2,"y":1.6},{"s":85,"v":-1,"x":113.8,"y":2.5},{"s":85,"v":-1,"x":112.4,"y":3.3},{"s":85,"v":-1,"x":110.9,"y":2.5},
{"s":86,"v":12,"x":112.1,"y":2.8},{"s":86,"v":12,"x":113.1,"y":2.8},{"s":86,"v":12,"x":112.6,"y":3.1},
{"s":87,"v":4,"x":122.3,"y":4.2},{"s":87,"v":4,"x":122.9,"y":2.8},{"s":87,"v":4,"x":126.2,"y":2.5},{"s":87,"v":4,"x":130.5,"y":3.3},{"s":87,"v":4,"x":132.5,"y":7.1},{"s":87,"v":4,"x":134.4,"y":8.1},{"s":87,"v":4,"x":134.4,"y":9.3},{"s":87,"v":4,"x":130,"y":9.6},{"s":87,"v":4,"x":125.6,"y":8.8},{"s":87,"v":4,"x":122.6,"y":6.4},
{"s":88,"v":5,"x":124.2,"y":4.7},{"s":88,"v":5,"x":125.3,"y":3.7},{"s":88,"v":5,"x":128.4,"y":3.6},{"s":88,"v":5,"x":130.5,"y":4.5},{"s":88,"v":5,"x":131.6,"y":6.4},{"s":88,"v":5,"x":130.5,"y":7.6},{"s":88,"v":5,"x":127.8,"y":7.9},{"s":88,"v":5,"x":125.6,"y":7.1},
{"s":89,"v":6,"x":125.3,"y":5.4},{"s":89,"v":6,"x":126.4,"y":4.5},{"s":89,"v":6,"x":128.9,"y":4.2},{"s":89,"v":6,"x":130.5,"y":5.4},{"s":89,"v":6,"x":130.8,"y":6.4},{"s":89,"v":6,"x":129.7,"y":7.1},{"s":89,"v":6,"x":127.5,"y":7.4},{"s":89,"v":6,"x":126.2,"y":6.6},
{"s":90,"v":7,"x":126.2,"y":5.7},{"s":90,"v":7,"x":127.8,"y":4.7},{"s":90,"v":7,"x":129.7,"y":5.7},{"s":90,"v":7,"x":129.7,"y":6.4},{"s":90,"v":7,"x":127.8,"y":6.9},{"s":90,"v":7,"x":126.7,"y":6.4},
{"s":91,"v":8,"x":127.3,"y":5.9},{"s":91,"v":8,"x":128.1,"y":5},{"s":91,"v":8,"x":128.9,"y":6.2},{"s":91,"v":8,"x":128.1,"y":6.7}
]},
"vconcat":[
{"vconcat":[
{"width":900,"height":111,"view":{"fill":"#0000dd"},"layer":[
{"data":{"name":"p1"},"transform":[{"window":[{"op":"row_number","as":"i"}]}],"mark":{"type":"line","interpolate":"cardinal-closed","clip":true,"stroke":"#000","strokeWidth":1},"encoding":{"x":{"field":"x","type":"quantitative","scale":{"domain":[0,20,120,140],"range":[0,86,778,900]},"axis":{"orient":"top","values":[0,20,40,60,80,100,120,140],"title":null,"tickSize":9,"labelPadding":7,"labelFlush":false}},"y":{"field":"y","type":"quantitative","scale":{"domain":[0,16.2],"reverse":true,"nice":false},"axis":{"values":[0,5,10,15],"title":"Depth (m)","tickSize":8,"labelPadding":7,"titlePadding":20}},"fill":{"field":"v","type":"ordinal","scale":{"domain":[-1,0,1,2,3,4,5,6,7,8,9,10,11,12,13,14,15,16],"range":["#000000","#00006e","#0000dd","#0033ff","#0088ff","#00d0ff","#00f5e5","#00ddb0","#00cc80","#00b850","#00a010","#55bb00","#ccee00","#ffdd00","#ffa500","#ff6600","#ff3300","#ff0000"]},"legend":null},"detail":{"field":"s"},"order":{"field":"i"}}},
{"data":{"name":"mark"},"transform":[{"window":[{"op":"row_number","as":"i"}]}],"mark":{"type":"line","interpolate":"linear-closed","fill":"white","stroke":"white","strokeWidth":0.5},"encoding":{"x":{"field":"x","type":"quantitative"},"y":{"field":"y","type":"quantitative"},"detail":{"field":"s"},"order":{"field":"i"}}},
{"data":{"name":"rule"},"mark":{"type":"line","stroke":"white","strokeWidth":1.5},"encoding":{"x":{"field":"x","type":"quantitative"},"y":{"field":"y","type":"quantitative"}}},
{"data":{"values":[{"x":-22,"y":7.1,"t":"1-20 Hz"}]},"mark":{"type":"text","align":"right","baseline":"middle","fontSize":30,"font":"Liberation Serif","color":"#111"},"encoding":{"x":{"field":"x","type":"quantitative"},"y":{"field":"y","type":"quantitative"},"text":{"field":"t"}}},
{"data":{"values":[{"x":-2.8,"y":-7.7,"t":"N"},{"x":143.3,"y":-7,"t":"S"}]},"mark":{"type":"text","align":"center","baseline":"middle","fontSize":30,"font":"Liberation Serif","color":"#111"},"encoding":{"x":{"field":"x","type":"quantitative"},"y":{"field":"y","type":"quantitative"},"text":{"field":"t"}}}
]},
{"width":900,"height":113,"view":{"fill":"#00006e"},"layer":[
{"data":{"name":"p2"},"transform":[{"window":[{"op":"row_number","as":"i"}]}],"mark":{"type":"line","interpolate":"cardinal-closed","clip":true,"stroke":"#000","strokeWidth":1},"encoding":{"x":{"field":"x","type":"quantitative","scale":{"domain":[0,20,120,140],"range":[0,86,778,900]},"axis":{"orient":"top","values":[0,20,40,60,80,100,120,140],"title":null,"tickSize":9,"labelPadding":7,"labelFlush":false}},"y":{"field":"y","type":"quantitative","scale":{"domain":[0,16.4],"reverse":true,"nice":false},"axis":{"values":[0,5,10,15],"title":"Depth (m)","tickSize":8,"labelPadding":7,"titlePadding":20}},"fill":{"field":"v","type":"ordinal","scale":{"domain":[-1,0,1,2,3,4,5,6,7,8,9,10,11,12,13,14,15,16],"range":["#000000","#00006e","#0000dd","#0033ff","#0088ff","#00d0ff","#00f5e5","#00ddb0","#00cc80","#00b850","#00a010","#55bb00","#ccee00","#ffdd00","#ffa500","#ff6600","#ff3300","#ff0000"]},"legend":null},"detail":{"field":"s"},"order":{"field":"i"}}},
{"data":{"name":"mark"},"transform":[{"window":[{"op":"row_number","as":"i"}]}],"mark":{"type":"line","interpolate":"linear-closed","fill":"white","stroke":"white","strokeWidth":0.5},"encoding":{"x":{"field":"x","type":"quantitative"},"y":{"field":"y","type":"quantitative"},"detail":{"field":"s"},"order":{"field":"i"}}},
{"data":{"name":"rule"},"mark":{"type":"line","stroke":"white","strokeWidth":1.5},"encoding":{"x":{"field":"x","type":"quantitative"},"y":{"field":"y","type":"quantitative"}}},
{"data":{"values":[{"x":-22,"y":8,"t":"21-40 Hz"}]},"mark":{"type":"text","align":"right","baseline":"middle","fontSize":30,"font":"Liberation Serif","color":"#111"},"encoding":{"x":{"field":"x","type":"quantitative"},"y":{"field":"y","type":"quantitative"},"text":{"field":"t"}}}
]}
],"spacing":65},
{"vconcat":[
{"width":900,"height":112,"view":{"fill":"#0000dd"},"layer":[
{"data":{"name":"p3"},"transform":[{"window":[{"op":"row_number","as":"i"}]}],"mark":{"type":"line","interpolate":"cardinal-closed","clip":true,"stroke":"#000","strokeWidth":1},"encoding":{"x":{"field":"x","type":"quantitative","scale":{"domain":[0,20,120,140],"range":[0,86,778,900]},"axis":{"orient":"top","values":[0,20,40,60,80,100,120,140],"title":null,"tickSize":9,"labelPadding":7,"labelFlush":false}},"y":{"field":"y","type":"quantitative","scale":{"domain":[0,16.3],"reverse":true,"nice":false},"axis":{"values":[0,5,10,15],"title":"Depth (m)","tickSize":8,"labelPadding":7,"titlePadding":20}},"fill":{"field":"v","type":"ordinal","scale":{"domain":[-1,0,1,2,3,4,5,6,7,8,9,10,11,12,13,14,15,16],"range":["#000000","#00006e","#0000dd","#0033ff","#0088ff","#00d0ff","#00f5e5","#00ddb0","#00cc80","#00b850","#00a010","#55bb00","#ccee00","#ffdd00","#ffa500","#ff6600","#ff3300","#ff0000"]},"legend":null},"detail":{"field":"s"},"order":{"field":"i"}}},
{"data":{"name":"mark"},"transform":[{"window":[{"op":"row_number","as":"i"}]}],"mark":{"type":"line","interpolate":"linear-closed","fill":"white","stroke":"white","strokeWidth":0.5},"encoding":{"x":{"field":"x","type":"quantitative"},"y":{"field":"y","type":"quantitative"},"detail":{"field":"s"},"order":{"field":"i"}}},
{"data":{"name":"rule"},"mark":{"type":"line","stroke":"white","strokeWidth":1.5},"encoding":{"x":{"field":"x","type":"quantitative"},"y":{"field":"y","type":"quantitative"}}},
{"data":{"values":[{"x":-22,"y":8,"t":"41-60 Hz"}]},"mark":{"type":"text","align":"right","baseline":"middle","fontSize":30,"font":"Liberation Serif","color":"#111"},"encoding":{"x":{"field":"x","type":"quantitative"},"y":{"field":"y","type":"quantitative"},"text":{"field":"t"}}}
]},
{"width":900,"height":26,"view":{"stroke":null},"title":{"text":"Coefficient of variation","font":"Liberation Serif","fontSize":21,"fontWeight":"normal","color":"#111","dx":-37,"offset":10},
"data":{"name":"lg"},"mark":{"type":"rect","stroke":"#222","strokeWidth":1},"encoding":{"x":{"field":"a","type":"quantitative","scale":{"domain":[0,16],"range":[251,577],"nice":false},"axis":{"values":[0,2,4,6,8,10,12,14,16],"labelExpr":"['0','0.5','1.0','1.5','2.0','2.5','3.0','4.0','5.0'][datum.value/2]","title":null,"domain":false,"ticks":false,"labelPadding":6,"labelFlush":false}},"x2":{"field":"b"},"y":{"value":0},"y2":{"value":26},"fill":{"field":"v","type":"ordinal","scale":{"domain":[-1,0,1,2,3,4,5,6,7,8,9,10,11,12,13,14,15,16],"range":["#000000","#00006e","#0000dd","#0033ff","#0088ff","#00d0ff","#00f5e5","#00ddb0","#00cc80","#00b850","#00a010","#55bb00","#ccee00","#ffdd00","#ffa500","#ff6600","#ff3300","#ff0000"]},"legend":null}}}
],"spacing":30}
],"spacing":41}
